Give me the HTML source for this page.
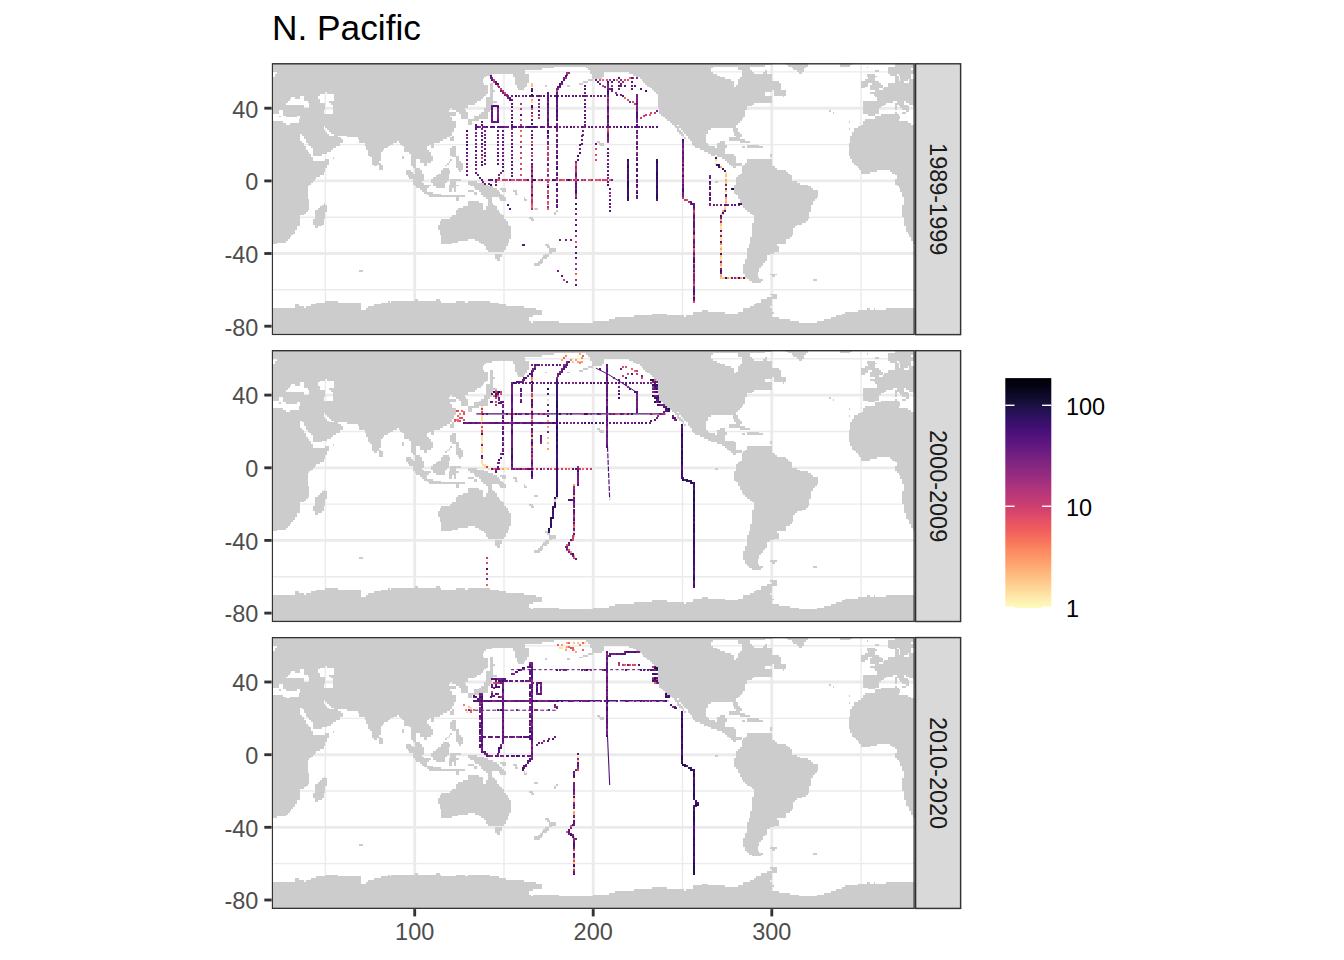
<!DOCTYPE html><html><head><meta charset="utf-8"><title>N. Pacific</title><style>html,body{margin:0;padding:0;background:#fff}svg{display:block}text{font-family:"Liberation Sans",sans-serif}</style></head><body>
<svg width="1344" height="960" viewBox="0 0 1344 960">
<rect width="1344" height="960" fill="#fff"/>
<defs><path id="land" d="M0.0 0.0H500.2V1.6H0.0zM514.5 0.0H536.0V1.6H514.5zM568.1 0.0H580.6V1.6H568.1zM623.5 0.0H643.3V1.6H623.5zM0.0 1.6H493.1V3.4H0.0zM516.3 1.6H536.0V3.4H516.3zM568.1 1.6H578.8V3.4H568.1zM623.5 1.6H643.3V3.4H623.5zM0.0 3.4H282.4V5.2H0.0zM314.5 3.4H441.3V5.2H314.5zM466.3 3.4H478.8V5.2H466.3zM519.9 3.4H534.2V5.2H519.9zM594.9 3.4H596.7V5.2H594.9zM616.3 3.4H643.3V5.2H616.3zM0.0 5.2H269.9V7.0H0.0zM316.3 5.2H439.5V7.0H316.3zM466.3 5.2H478.8V7.0H466.3zM521.7 5.2H532.4V7.0H521.7zM616.3 5.2H639.5V7.0H616.3zM641.3 5.2H643.3V7.0H641.3zM0.0 7.0H253.8V8.8H0.0zM318.1 7.0H439.5V8.8H318.1zM469.9 7.0H480.6V8.8H469.9zM493.1 7.0H494.9V8.8H493.1zM525.2 7.0H532.4V8.8H525.2zM603.8 7.0H607.4V8.8H603.8zM616.3 7.0H643.3V8.8H616.3zM5.5 8.8H253.8V10.6H5.5zM318.1 8.8H332.4V10.6H318.1zM357.4 8.8H441.3V10.6H357.4zM469.9 8.8H482.4V10.6H469.9zM491.3 8.8H494.9V10.6H491.3zM527.0 8.8H530.6V10.6H527.0zM616.3 8.8H643.3V10.6H616.3zM3.8 10.6H219.9V12.5H3.8zM241.3 10.6H257.4V12.5H241.3zM319.9 10.6H332.4V12.5H319.9zM360.9 10.6H444.9V12.5H360.9zM469.9 10.6H500.2V12.5H469.9zM594.9 10.6H603.8V12.5H594.9zM618.1 10.6H625.3V12.5H618.1zM627.0 10.6H639.5V12.5H627.0zM3.8 12.5H214.5V14.3H3.8zM241.3 12.5H257.4V14.3H241.3zM319.9 12.5H332.4V14.3H319.9zM364.5 12.5H448.5V14.3H364.5zM469.9 12.5H500.2V14.3H469.9zM594.9 12.5H605.6V14.3H594.9zM623.5 12.5H627.0V14.3H623.5zM628.8 12.5H639.5V14.3H628.8zM0.0 14.3H212.7V16.1H0.0zM243.1 14.3H257.4V16.1H243.1zM319.9 14.3H330.6V16.1H319.9zM368.1 14.3H453.8V16.1H368.1zM468.1 14.3H500.2V16.1H468.1zM596.7 14.3H603.8V16.1H596.7zM623.5 14.3H627.0V16.1H623.5zM628.8 14.3H639.5V16.1H628.8zM0.0 16.1H210.9V17.9H0.0zM243.1 16.1H257.4V17.9H243.1zM316.3 16.1H321.6V17.9H316.3zM369.9 16.1H459.2V17.9H369.9zM466.3 16.1H500.2V17.9H466.3zM593.1 16.1H603.8V17.9H593.1zM623.5 16.1H627.0V17.9H623.5zM628.8 16.1H636.0V17.9H628.8zM637.8 16.1H643.3V17.9H637.8zM0.0 17.9H210.9V19.7H0.0zM243.1 17.9H257.4V19.7H243.1zM310.9 17.9H316.3V19.7H310.9zM371.7 17.9H462.7V19.7H371.7zM466.3 17.9H507.4V19.7H466.3zM589.5 17.9H607.4V19.7H589.5zM623.5 17.9H632.4V19.7H623.5zM637.8 17.9H643.3V19.7H637.8zM0.0 19.7H212.7V21.5H0.0zM218.1 19.7H221.6V21.5H218.1zM243.1 19.7H255.6V21.5H243.1zM307.4 19.7H310.9V21.5H307.4zM373.4 19.7H462.7V21.5H373.4zM466.3 19.7H509.2V21.5H466.3zM589.5 19.7H596.7V21.5H589.5zM600.3 19.7H609.2V21.5H600.3zM616.3 19.7H643.3V21.5H616.3zM0.0 21.5H216.3V23.4H0.0zM218.1 21.5H221.6V23.4H218.1zM244.9 21.5H255.6V23.4H244.9zM273.4 21.5H275.2V23.4H273.4zM294.9 21.5H298.4V23.4H294.9zM375.2 21.5H462.7V23.4H375.2zM464.5 21.5H509.2V23.4H464.5zM589.5 21.5H596.7V23.4H589.5zM598.5 21.5H611.0V23.4H598.5zM616.3 21.5H643.3V23.4H616.3zM0.0 23.4H216.3V25.2H0.0zM218.1 23.4H221.6V25.2H218.1zM244.9 23.4H253.8V25.2H244.9zM378.8 23.4H509.2V25.2H378.8zM589.5 23.4H593.1V25.2H589.5zM598.5 23.4H611.0V25.2H598.5zM612.8 23.4H643.3V25.2H612.8zM0.0 25.2H216.3V27.0H0.0zM218.1 25.2H221.6V27.0H218.1zM246.6 25.2H252.0V27.0H246.6zM380.6 25.2H509.2V27.0H380.6zM598.5 25.2H607.4V27.0H598.5zM611.0 25.2H643.3V27.0H611.0zM0.0 27.0H216.3V28.8H0.0zM218.1 27.0H223.4V28.8H218.1zM382.4 27.0H500.2V28.8H382.4zM502.0 27.0H514.5V28.8H502.0zM603.8 27.0H643.3V28.8H603.8zM0.0 28.8H53.8V30.6H0.0zM55.5 28.8H216.3V30.6H55.5zM218.1 28.8H221.6V30.6H218.1zM384.2 28.8H493.1V30.6H384.2zM502.0 28.8H514.5V30.6H502.0zM598.5 28.8H643.3V30.6H598.5zM0.0 30.6H48.4V32.4H0.0zM62.7 30.6H214.5V32.4H62.7zM218.1 30.6H221.6V32.4H218.1zM385.9 30.6H493.1V32.4H385.9zM502.0 30.6H514.5V32.4H502.0zM602.0 30.6H643.3V32.4H602.0zM0.0 32.4H28.8V34.2H0.0zM32.3 32.4H46.6V34.2H32.3zM62.7 32.4H212.7V34.2H62.7zM218.1 32.4H221.6V34.2H218.1zM385.9 32.4H500.2V34.2H385.9zM511.0 32.4H512.7V34.2H511.0zM603.8 32.4H643.3V34.2H603.8zM0.0 34.2H19.8V36.1H0.0zM23.4 34.2H28.8V36.1H23.4zM32.3 34.2H46.6V36.1H32.3zM62.7 34.2H210.9V36.1H62.7zM214.5 34.2H221.6V36.1H214.5zM385.9 34.2H500.2V36.1H385.9zM605.6 34.2H643.3V36.1H605.6zM0.0 36.1H18.0V37.9H0.0zM32.3 36.1H48.4V37.9H32.3zM62.7 36.1H209.1V37.9H62.7zM214.5 36.1H221.6V37.9H214.5zM385.9 36.1H500.2V37.9H385.9zM605.6 36.1H643.3V37.9H605.6zM0.0 37.9H16.3V39.7H0.0zM35.9 37.9H48.4V39.7H35.9zM57.3 37.9H205.6V39.7H57.3zM214.5 37.9H225.2V39.7H214.5zM385.9 37.9H500.2V39.7H385.9zM591.3 37.9H621.7V39.7H591.3zM625.3 37.9H632.4V39.7H625.3zM634.2 37.9H643.3V39.7H634.2zM0.0 39.7H14.5V41.5H0.0zM37.7 39.7H53.8V41.5H37.7zM59.1 39.7H203.8V41.5H59.1zM214.5 39.7H221.6V41.5H214.5zM385.9 39.7H482.4V41.5H385.9zM591.3 39.7H614.5V41.5H591.3zM623.5 39.7H632.4V41.5H623.5zM637.8 39.7H643.3V41.5H637.8zM0.0 41.5H32.3V43.3H0.0zM37.7 41.5H53.8V43.3H37.7zM60.9 41.5H196.6V43.3H60.9zM214.5 41.5H219.9V43.3H214.5zM385.9 41.5H480.6V43.3H385.9zM591.3 41.5H612.8V43.3H591.3zM623.5 41.5H625.3V43.3H623.5zM627.0 41.5H636.0V43.3H627.0zM641.3 41.5H643.3V43.3H641.3zM0.0 43.3H32.3V45.1H0.0zM37.7 43.3H53.8V45.1H37.7zM60.9 43.3H196.6V45.1H60.9zM214.5 43.3H219.9V45.1H214.5zM385.9 43.3H475.2V45.1H385.9zM591.3 43.3H609.2V45.1H591.3zM623.5 43.3H625.3V45.1H623.5zM628.8 43.3H637.8V45.1H628.8zM0.0 45.1H53.8V47.0H0.0zM60.9 45.1H178.8V47.0H60.9zM180.6 45.1H193.1V47.0H180.6zM212.7 45.1H219.9V47.0H212.7zM387.7 45.1H475.2V47.0H387.7zM591.3 45.1H607.4V47.0H591.3zM623.5 45.1H625.3V47.0H623.5zM630.6 45.1H637.8V47.0H630.6zM0.0 47.0H7.3V48.8H0.0zM10.9 47.0H52.0V48.8H10.9zM60.9 47.0H177.0V48.8H60.9zM184.1 47.0H194.8V48.8H184.1zM212.7 47.0H218.1V48.8H212.7zM387.7 47.0H473.5V48.8H387.7zM557.4 47.0H559.2V48.8H557.4zM591.3 47.0H607.4V48.8H591.3zM634.2 47.0H637.8V48.8H634.2zM0.0 48.8H7.3V50.6H0.0zM10.9 48.8H52.0V50.6H10.9zM60.9 48.8H184.1V50.6H60.9zM187.7 48.8H196.6V50.6H187.7zM209.1 48.8H216.3V50.6H209.1zM387.7 48.8H473.5V50.6H387.7zM561.0 48.8H562.8V50.6H561.0zM591.3 48.8H607.4V50.6H591.3zM623.5 48.8H625.3V50.6H623.5zM630.6 48.8H634.2V50.6H630.6zM10.9 50.6H184.1V52.4H10.9zM189.5 50.6H196.6V52.4H189.5zM207.3 50.6H216.3V52.4H207.3zM389.5 50.6H473.5V52.4H389.5zM596.7 50.6H603.8V52.4H596.7zM609.2 50.6H627.0V52.4H609.2zM7.3 52.4H9.1V54.2H7.3zM14.5 52.4H25.2V54.2H14.5zM28.8 52.4H178.8V54.2H28.8zM189.5 52.4H196.6V54.2H189.5zM202.0 52.4H216.3V54.2H202.0zM391.3 52.4H473.5V54.2H391.3zM603.8 52.4H628.8V54.2H603.8zM28.8 54.2H180.6V56.0H28.8zM189.5 54.2H196.6V56.0H189.5zM202.0 54.2H216.3V56.0H202.0zM393.1 54.2H471.7V56.0H393.1zM603.8 54.2H628.8V56.0H603.8zM27.0 56.0H180.6V57.9H27.0zM196.6 56.0H207.3V57.9H196.6zM394.9 56.0H469.9V57.9H394.9zM593.1 56.0H627.0V57.9H593.1zM0.0 57.9H10.9V59.7H0.0zM27.0 57.9H184.1V59.7H27.0zM196.6 57.9H200.2V59.7H196.6zM398.4 57.9H468.1V59.7H398.4zM577.0 57.9H578.8V59.7H577.0zM591.3 57.9H636.0V59.7H591.3zM0.0 59.7H14.5V61.5H0.0zM18.0 59.7H184.1V61.5H18.0zM196.6 59.7H200.2V61.5H196.6zM400.2 59.7H466.3V61.5H400.2zM591.3 59.7H639.5V61.5H591.3zM0.0 61.5H184.1V63.3H0.0zM402.0 61.5H405.6V63.3H402.0zM407.4 61.5H464.5V63.3H407.4zM589.5 61.5H643.3V63.3H589.5zM0.0 63.3H52.0V65.1H0.0zM53.8 63.3H184.1V65.1H53.8zM403.8 63.3H464.5V65.1H403.8zM586.0 63.3H643.3V65.1H586.0zM0.0 65.1H52.0V66.9H0.0zM55.5 65.1H182.3V66.9H55.5zM405.6 65.1H407.4V66.9H405.6zM409.2 65.1H439.5V66.9H409.2zM461.0 65.1H466.3V66.9H461.0zM577.0 65.1H578.8V66.9H577.0zM582.4 65.1H643.3V66.9H582.4zM0.0 66.9H53.8V68.8H0.0zM57.3 66.9H182.3V68.8H57.3zM405.6 66.9H409.2V68.8H405.6zM410.9 66.9H436.0V68.8H410.9zM461.0 66.9H466.3V68.8H461.0zM582.4 66.9H643.3V68.8H582.4zM0.0 68.8H55.5V70.6H0.0zM59.1 68.8H180.6V70.6H59.1zM407.4 68.8H410.9V70.6H407.4zM412.7 68.8H436.0V70.6H412.7zM462.7 68.8H468.1V70.6H462.7zM580.6 68.8H643.3V70.6H580.6zM0.0 70.6H28.8V72.4H0.0zM30.5 70.6H57.3V72.4H30.5zM62.7 70.6H180.6V72.4H62.7zM409.2 70.6H412.7V72.4H409.2zM414.5 70.6H434.2V72.4H414.5zM462.7 70.6H469.9V72.4H462.7zM580.6 70.6H643.3V72.4H580.6zM0.0 72.4H28.8V74.2H0.0zM32.3 72.4H66.3V74.2H32.3zM75.2 72.4H178.8V74.2H75.2zM180.6 72.4H182.3V74.2H180.6zM410.9 72.4H412.7V74.2H410.9zM416.3 72.4H434.2V74.2H416.3zM464.5 72.4H469.9V74.2H464.5zM578.8 72.4H643.3V74.2H578.8zM0.0 74.2H28.8V76.0H0.0zM32.3 74.2H69.8V76.0H32.3zM85.9 74.2H175.2V76.0H85.9zM178.8 74.2H182.3V76.0H178.8zM412.7 74.2H414.5V76.0H412.7zM416.3 74.2H434.2V76.0H416.3zM457.4 74.2H468.1V76.0H457.4zM578.8 74.2H643.3V76.0H578.8zM0.0 76.0H28.8V77.8H0.0zM34.1 76.0H71.6V77.8H34.1zM87.7 76.0H171.6V77.8H87.7zM178.8 76.0H182.3V77.8H178.8zM418.1 76.0H434.2V77.8H418.1zM457.4 76.0H473.5V77.8H457.4zM578.8 76.0H643.3V77.8H578.8zM0.0 77.8H30.5V79.6H0.0zM34.1 77.8H71.6V79.6H34.1zM87.7 77.8H125.2V79.6H87.7zM127.0 77.8H168.1V79.6H127.0zM325.2 77.8H328.8V79.6H325.2zM419.9 77.8H434.2V79.6H419.9zM448.5 77.8H453.8V79.6H448.5zM468.1 77.8H478.8V79.6H468.1zM578.8 77.8H643.3V79.6H578.8zM0.0 79.6H32.3V81.5H0.0zM35.9 79.6H68.0V81.5H35.9zM93.0 79.6H121.6V81.5H93.0zM128.8 79.6H162.7V81.5H128.8zM327.0 79.6H332.4V81.5H327.0zM419.9 79.6H436.0V81.5H419.9zM444.9 79.6H453.8V81.5H444.9zM577.0 79.6H643.3V81.5H577.0zM0.0 81.5H32.3V83.3H0.0zM37.7 81.5H68.0V83.3H37.7zM93.0 81.5H118.1V83.3H93.0zM130.6 81.5H157.3V83.3H130.6zM159.1 81.5H162.7V83.3H159.1zM328.8 81.5H332.4V83.3H328.8zM421.7 81.5H437.7V83.3H421.7zM444.9 81.5H455.6V83.3H444.9zM475.2 81.5H487.7V83.3H475.2zM577.0 81.5H643.3V83.3H577.0zM0.0 83.3H34.1V85.1H0.0zM39.5 83.3H64.5V85.1H39.5zM94.8 83.3H116.3V85.1H94.8zM132.3 83.3H155.6V85.1H132.3zM159.1 83.3H162.7V85.1H159.1zM180.6 83.3H184.1V85.1H180.6zM423.4 83.3H443.1V85.1H423.4zM444.9 83.3H455.6V85.1H444.9zM469.9 83.3H473.5V85.1H469.9zM475.2 83.3H491.3V85.1H475.2zM577.0 83.3H643.3V85.1H577.0zM0.0 85.1H34.1V86.9H0.0zM41.3 85.1H60.9V86.9H41.3zM94.8 85.1H112.7V86.9H94.8zM132.3 85.1H155.6V86.9H132.3zM178.8 85.1H184.1V86.9H178.8zM428.8 85.1H453.8V86.9H428.8zM577.0 85.1H643.3V86.9H577.0zM0.0 86.9H35.9V88.7H0.0zM41.3 86.9H59.1V88.7H41.3zM96.6 86.9H110.9V88.7H96.6zM132.3 86.9H157.3V88.7H132.3zM178.8 86.9H184.1V88.7H178.8zM432.4 86.9H453.8V88.7H432.4zM577.0 86.9H643.3V88.7H577.0zM0.0 88.7H37.7V90.5H0.0zM41.3 88.7H55.5V90.5H41.3zM96.6 88.7H109.1V90.5H96.6zM137.7 88.7H159.1V90.5H137.7zM178.8 88.7H184.1V90.5H178.8zM436.0 88.7H453.8V90.5H436.0zM577.0 88.7H643.3V90.5H577.0zM0.0 90.5H39.5V92.4H0.0zM41.3 90.5H50.2V92.4H41.3zM96.6 90.5H109.1V92.4H96.6zM139.5 90.5H159.1V92.4H139.5zM178.8 90.5H184.1V92.4H178.8zM439.5 90.5H462.7V92.4H439.5zM498.5 90.5H500.2V92.4H498.5zM577.0 90.5H643.3V92.4H577.0zM0.0 92.4H39.5V94.2H0.0zM98.4 92.4H109.1V94.2H98.4zM130.6 92.4H132.3V94.2H130.6zM139.5 92.4H160.9V94.2H139.5zM180.6 92.4H187.7V94.2H180.6zM444.9 92.4H464.5V94.2H444.9zM498.5 92.4H500.2V94.2H498.5zM578.8 92.4H643.3V94.2H578.8zM0.0 94.2H41.3V96.0H0.0zM60.9 94.2H62.7V96.0H60.9zM100.2 94.2H109.1V96.0H100.2zM130.6 94.2H132.3V96.0H130.6zM139.5 94.2H160.9V96.0H139.5zM184.1 94.2H187.7V96.0H184.1zM450.2 94.2H464.5V96.0H450.2zM578.8 94.2H643.3V96.0H578.8zM0.0 96.0H41.3V97.8H0.0zM53.8 96.0H57.3V97.8H53.8zM100.2 96.0H109.1V97.8H100.2zM139.5 96.0H144.8V97.8H139.5zM148.4 96.0H160.9V97.8H148.4zM178.8 96.0H180.6V97.8H178.8zM184.1 96.0H187.7V97.8H184.1zM453.8 96.0H464.5V97.8H453.8zM475.2 96.0H500.2V97.8H475.2zM580.6 96.0H643.3V97.8H580.6zM0.0 97.8H57.3V99.6H0.0zM100.2 97.8H107.3V99.6H100.2zM139.5 97.8H144.8V99.6H139.5zM148.4 97.8H159.1V99.6H148.4zM177.0 97.8H178.8V99.6H177.0zM184.1 97.8H189.5V99.6H184.1zM455.6 97.8H464.5V99.6H455.6zM475.2 97.8H500.2V99.6H475.2zM580.6 97.8H643.3V99.6H580.6zM0.0 99.6H57.3V101.4H0.0zM100.2 99.6H109.1V101.4H100.2zM139.5 99.6H144.8V101.4H139.5zM152.0 99.6H155.6V101.4H152.0zM175.2 99.6H177.0V101.4H175.2zM184.1 99.6H191.3V101.4H184.1zM457.4 99.6H469.9V101.4H457.4zM473.5 99.6H500.2V101.4H473.5zM582.4 99.6H643.3V101.4H582.4zM0.0 101.4H55.5V103.3H0.0zM102.0 101.4H105.5V103.3H102.0zM107.3 101.4H110.9V103.3H107.3zM139.5 101.4H144.8V103.3H139.5zM152.0 101.4H155.6V103.3H152.0zM173.4 101.4H175.2V103.3H173.4zM184.1 101.4H191.3V103.3H184.1zM459.2 101.4H469.9V103.3H459.2zM471.7 101.4H500.2V103.3H471.7zM584.2 101.4H643.3V103.3H584.2zM0.0 103.3H55.5V105.1H0.0zM107.3 103.3H110.9V105.1H107.3zM141.3 103.3H144.8V105.1H141.3zM184.1 103.3H191.3V105.1H184.1zM461.0 103.3H464.5V105.1H461.0zM469.9 103.3H503.8V105.1H469.9zM586.0 103.3H643.3V105.1H586.0zM0.0 105.1H53.8V106.9H0.0zM107.3 105.1H110.9V106.9H107.3zM143.1 105.1H148.4V106.9H143.1zM171.6 105.1H177.0V106.9H171.6zM185.9 105.1H191.3V106.9H185.9zM469.9 105.1H505.6V106.9H469.9zM587.8 105.1H643.3V106.9H587.8zM0.0 106.9H53.8V108.7H0.0zM134.1 106.9H139.5V108.7H134.1zM143.1 106.9H150.2V108.7H143.1zM169.8 106.9H178.8V108.7H169.8zM187.7 106.9H189.5V108.7H187.7zM469.9 106.9H514.5V108.7H469.9zM589.5 106.9H605.6V108.7H589.5zM618.1 106.9H643.3V108.7H618.1zM0.0 108.7H52.0V110.5H0.0zM134.1 108.7H141.3V110.5H134.1zM143.1 108.7H150.2V110.5H143.1zM169.8 108.7H178.8V110.5H169.8zM469.9 108.7H516.3V110.5H469.9zM589.5 108.7H598.5V110.5H589.5zM619.9 108.7H643.3V110.5H619.9zM0.0 110.5H52.0V112.3H0.0zM134.1 110.5H152.0V112.3H134.1zM166.3 110.5H177.0V112.3H166.3zM468.1 110.5H518.1V112.3H468.1zM623.5 110.5H643.3V112.3H623.5zM0.0 112.3H48.4V114.2H0.0zM135.9 112.3H152.0V114.2H135.9zM164.5 112.3H177.0V114.2H164.5zM466.3 112.3H519.9V114.2H466.3zM625.3 112.3H643.3V114.2H625.3zM0.0 114.2H44.8V116.0H0.0zM137.7 114.2H152.0V116.0H137.7zM160.9 114.2H177.0V116.0H160.9zM464.5 114.2H519.9V116.0H464.5zM625.3 114.2H643.3V116.0H625.3zM0.0 116.0H43.0V117.8H0.0zM141.3 116.0H152.0V117.8H141.3zM159.1 116.0H177.0V117.8H159.1zM178.8 116.0H189.5V117.8H178.8zM464.5 116.0H519.9V117.8H464.5zM623.5 116.0H643.3V117.8H623.5zM0.0 117.8H41.3V119.6H0.0zM141.3 117.8H150.2V119.6H141.3zM159.1 117.8H175.2V119.6H159.1zM178.8 117.8H184.1V119.6H178.8zM196.6 117.8H205.6V119.6H196.6zM443.1 117.8H446.7V119.6H443.1zM464.5 117.8H525.2V119.6H464.5zM623.5 117.8H643.3V119.6H623.5zM0.0 119.6H39.5V121.4H0.0zM141.3 119.6H152.0V121.4H141.3zM160.9 119.6H173.4V121.4H160.9zM178.8 119.6H184.1V121.4H178.8zM196.6 119.6H212.7V121.4H196.6zM464.5 119.6H528.8V121.4H464.5zM623.5 119.6H643.3V121.4H623.5zM0.0 121.4H37.7V123.2H0.0zM143.1 121.4H159.1V123.2H143.1zM160.9 121.4H173.4V123.2H160.9zM177.0 121.4H187.7V123.2H177.0zM198.4 121.4H216.3V123.2H198.4zM462.7 121.4H536.0V123.2H462.7zM625.3 121.4H643.3V123.2H625.3zM0.0 123.2H35.9V125.0H0.0zM144.8 123.2H157.3V125.0H144.8zM164.5 123.2H173.4V125.0H164.5zM177.0 123.2H184.1V125.0H177.0zM202.0 123.2H221.6V125.0H202.0zM462.7 123.2H539.5V125.0H462.7zM627.0 123.2H643.3V125.0H627.0zM0.0 125.0H35.9V126.9H0.0zM148.4 125.0H155.6V126.9H148.4zM177.0 125.0H180.6V126.9H177.0zM182.3 125.0H184.1V126.9H182.3zM203.8 125.0H225.2V126.9H203.8zM228.8 125.0H234.1V126.9H228.8zM462.7 125.0H541.3V126.9H462.7zM628.8 125.0H643.3V126.9H628.8zM0.0 126.9H35.9V128.7H0.0zM150.2 126.9H155.6V128.7H150.2zM177.0 126.9H180.6V128.7H177.0zM182.3 126.9H184.1V128.7H182.3zM196.6 126.9H202.0V128.7H196.6zM207.3 126.9H227.0V128.7H207.3zM230.6 126.9H234.1V128.7H230.6zM241.3 126.9H244.9V128.7H241.3zM462.7 126.9H546.7V128.7H462.7zM628.8 126.9H643.3V128.7H628.8zM0.0 128.7H35.9V130.5H0.0zM152.0 128.7H160.9V130.5H152.0zM202.0 128.7H205.6V130.5H202.0zM209.1 128.7H228.8V130.5H209.1zM243.1 128.7H244.9V130.5H243.1zM462.7 128.7H546.7V130.5H462.7zM630.6 128.7H643.3V130.5H630.6zM0.0 130.5H35.9V132.3H0.0zM155.6 130.5H169.8V132.3H155.6zM202.0 130.5H205.6V132.3H202.0zM209.1 130.5H230.6V132.3H209.1zM243.1 130.5H246.6V132.3H243.1zM464.5 130.5H546.7V132.3H464.5zM630.6 130.5H643.3V132.3H630.6zM0.0 132.3H35.9V134.1H0.0zM157.3 132.3H193.1V134.1H157.3zM210.9 132.3H232.4V134.1H210.9zM466.3 132.3H546.7V134.1H466.3zM630.6 132.3H643.3V134.1H630.6zM0.0 134.1H35.9V135.9H0.0zM184.1 134.1H187.7V135.9H184.1zM214.5 134.1H219.9V135.9H214.5zM227.0 134.1H234.1V135.9H227.0zM252.0 134.1H253.8V135.9H252.0zM466.3 134.1H544.9V135.9H466.3zM632.4 134.1H643.3V135.9H632.4zM0.0 135.9H37.7V137.8H0.0zM184.1 135.9H187.7V137.8H184.1zM216.3 135.9H219.9V137.8H216.3zM228.8 135.9H234.1V137.8H228.8zM252.0 135.9H255.6V137.8H252.0zM468.1 135.9H543.1V137.8H468.1zM632.4 135.9H643.3V137.8H632.4zM0.0 137.8H37.7V139.6H0.0zM196.6 137.8H207.3V139.6H196.6zM216.3 137.8H219.9V139.6H216.3zM468.1 137.8H541.3V139.6H468.1zM632.4 137.8H643.3V139.6H632.4zM0.0 139.6H37.7V141.4H0.0zM52.0 139.6H53.8V141.4H52.0zM196.6 139.6H210.9V141.4H196.6zM216.3 139.6H221.6V141.4H216.3zM469.9 139.6H541.3V141.4H469.9zM632.4 139.6H643.3V141.4H632.4zM0.0 141.4H37.7V143.2H0.0zM50.2 141.4H55.5V143.2H50.2zM196.6 141.4H210.9V143.2H196.6zM216.3 141.4H223.4V143.2H216.3zM469.9 141.4H539.5V143.2H469.9zM630.6 141.4H643.3V143.2H630.6zM0.0 143.2H37.7V145.0H0.0zM48.4 143.2H55.5V145.0H48.4zM191.3 143.2H210.9V145.0H191.3zM214.5 143.2H225.2V145.0H214.5zM471.7 143.2H539.5V145.0H471.7zM630.6 143.2H643.3V145.0H630.6zM0.0 145.0H37.7V146.8H0.0zM46.6 145.0H55.5V146.8H46.6zM185.9 145.0H210.9V146.8H185.9zM214.5 145.0H225.2V146.8H214.5zM262.7 145.0H266.3V146.8H262.7zM473.5 145.0H539.5V146.8H473.5zM630.6 145.0H643.3V146.8H630.6zM0.0 146.8H35.9V148.7H0.0zM43.0 146.8H55.5V148.7H43.0zM184.1 146.8H227.0V148.7H184.1zM284.1 146.8H285.9V148.7H284.1zM475.2 146.8H539.5V148.7H475.2zM630.6 146.8H643.3V148.7H630.6zM0.0 148.7H34.1V150.5H0.0zM43.0 148.7H53.8V150.5H43.0zM184.1 148.7H228.8V150.5H184.1zM282.4 148.7H284.1V150.5H282.4zM478.8 148.7H537.8V150.5H478.8zM630.6 148.7H643.3V150.5H630.6zM0.0 150.5H32.3V152.3H0.0zM43.0 150.5H53.8V152.3H43.0zM184.1 150.5H230.6V152.3H184.1zM282.4 150.5H284.1V152.3H282.4zM480.6 150.5H537.8V152.3H480.6zM630.6 150.5H643.3V152.3H630.6zM0.0 152.3H28.8V154.1H0.0zM43.0 152.3H53.8V154.1H43.0zM180.6 152.3H232.4V154.1H180.6zM482.4 152.3H537.8V154.1H482.4zM630.6 152.3H643.3V154.1H630.6zM0.0 154.1H28.8V155.9H0.0zM43.0 154.1H53.8V155.9H43.0zM178.8 154.1H232.4V155.9H178.8zM257.4 154.1H260.9V155.9H257.4zM482.4 154.1H537.8V155.9H482.4zM632.4 154.1H643.3V155.9H632.4zM0.0 155.9H28.8V157.7H0.0zM41.3 155.9H52.0V157.7H41.3zM169.8 155.9H234.1V157.7H169.8zM259.1 155.9H262.7V157.7H259.1zM482.4 155.9H536.0V157.7H482.4zM632.4 155.9H643.3V157.7H632.4zM0.0 157.7H28.8V159.6H0.0zM41.3 157.7H52.0V159.6H41.3zM168.1 157.7H235.9V159.6H168.1zM482.4 157.7H534.2V159.6H482.4zM632.4 157.7H643.3V159.6H632.4zM0.0 159.6H28.8V161.4H0.0zM41.3 159.6H52.0V161.4H41.3zM168.1 159.6H235.9V161.4H168.1zM480.6 159.6H530.6V161.4H480.6zM632.4 159.6H643.3V161.4H632.4zM0.0 161.4H28.8V163.2H0.0zM43.0 161.4H50.2V163.2H43.0zM166.3 161.4H237.7V163.2H166.3zM480.6 161.4H525.2V163.2H480.6zM632.4 161.4H643.3V163.2H632.4zM0.0 163.2H25.2V165.0H0.0zM43.0 163.2H46.6V165.0H43.0zM166.3 163.2H239.5V165.0H166.3zM480.6 163.2H523.5V165.0H480.6zM634.2 163.2H643.3V165.0H634.2zM0.0 165.0H25.2V166.8H0.0zM166.3 165.0H239.5V166.8H166.3zM480.6 165.0H521.7V166.8H480.6zM634.2 165.0H643.3V166.8H634.2zM0.0 166.8H23.4V168.6H0.0zM168.1 166.8H239.5V168.6H168.1zM480.6 166.8H521.7V168.6H480.6zM634.2 166.8H643.3V168.6H634.2zM0.0 168.6H23.4V170.4H0.0zM168.1 168.6H239.5V170.4H168.1zM480.6 168.6H521.7V170.4H480.6zM636.0 168.6H643.3V170.4H636.0zM0.0 170.4H21.6V172.3H0.0zM168.1 170.4H239.5V172.3H168.1zM480.6 170.4H521.7V172.3H480.6zM637.8 170.4H643.3V172.3H637.8zM0.0 172.3H19.8V174.1H0.0zM169.8 172.3H239.5V174.1H169.8zM480.6 172.3H519.9V174.1H480.6zM637.8 172.3H643.3V174.1H637.8zM0.0 174.1H18.0V175.9H0.0zM169.8 174.1H239.5V175.9H169.8zM478.8 174.1H518.1V175.9H478.8zM639.5 174.1H643.3V175.9H639.5zM0.0 175.9H16.3V177.7H0.0zM169.8 175.9H196.6V177.7H169.8zM203.8 175.9H237.7V177.7H203.8zM478.8 175.9H514.5V177.7H478.8zM639.5 175.9H643.3V177.7H639.5zM0.0 177.7H14.5V179.5H0.0zM169.8 177.7H185.9V179.5H169.8zM207.3 177.7H237.7V179.5H207.3zM478.8 177.7H514.5V179.5H478.8zM641.3 177.7H643.3V179.5H641.3zM0.0 179.5H5.5V181.3H0.0zM169.8 179.5H180.6V181.3H169.8zM209.1 179.5H235.9V181.3H209.1zM478.8 179.5H514.5V181.3H478.8zM641.3 179.5H643.3V181.3H641.3zM212.7 181.3H235.9V183.2H212.7zM273.4 181.3H277.0V183.2H273.4zM477.0 181.3H505.6V183.2H477.0zM214.5 183.2H234.1V185.0H214.5zM275.2 183.2H278.8V185.0H275.2zM477.0 183.2H507.4V185.0H477.0zM214.5 185.0H234.1V186.8H214.5zM277.0 185.0H284.1V186.8H277.0zM475.2 185.0H507.4V186.8H475.2zM216.3 186.8H232.4V188.6H216.3zM277.0 186.8H284.1V188.6H277.0zM475.2 186.8H507.4V188.6H475.2zM277.0 188.6H280.6V190.4H277.0zM475.2 188.6H502.0V190.4H475.2zM223.4 190.4H230.6V192.2H223.4zM273.4 190.4H277.0V192.2H273.4zM475.2 190.4H498.5V192.2H475.2zM223.4 192.2H230.6V194.1H223.4zM271.6 192.2H277.0V194.1H271.6zM475.2 192.2H494.9V194.1H475.2zM223.4 194.1H228.8V195.9H223.4zM269.9 194.1H275.2V195.9H269.9zM475.2 194.1H494.9V195.9H475.2zM225.2 195.9H228.8V197.7H225.2zM268.1 195.9H271.6V197.7H268.1zM473.5 195.9H494.9V197.7H473.5zM266.3 197.7H271.6V199.5H266.3zM473.5 197.7H493.1V199.5H473.5zM262.7 199.5H269.9V201.3H262.7zM473.5 199.5H491.3V201.3H473.5zM262.7 201.3H268.1V203.1H262.7zM471.7 201.3H491.3V203.1H471.7zM471.7 203.1H489.5V205.0H471.7zM471.7 205.0H487.7V206.8H471.7zM87.7 206.8H91.3V208.6H87.7zM471.7 206.8H487.7V208.6H471.7zM471.7 208.6H486.0V210.4H471.7zM473.5 210.4H486.0V212.2H473.5zM498.5 210.4H505.6V212.2H498.5zM473.5 212.2H486.0V214.0H473.5zM500.2 212.2H503.8V214.0H500.2zM475.2 214.0H487.7V215.8H475.2zM477.0 215.8H491.3V217.7H477.0zM541.3 215.8H544.9V217.7H541.3zM480.6 217.7H489.5V219.5H480.6zM498.5 230.4H505.6V232.2H498.5zM500.2 232.2H505.6V234.0H500.2zM494.9 234.0H505.6V235.8H494.9zM143.1 235.8H146.6V237.6H143.1zM164.5 235.8H168.1V237.6H164.5zM489.5 235.8H500.2V237.6H489.5zM53.8 237.6H66.3V239.5H53.8zM116.3 237.6H118.1V239.5H116.3zM119.8 237.6H169.8V239.5H119.8zM184.1 237.6H193.1V239.5H184.1zM196.6 237.6H218.1V239.5H196.6zM489.5 237.6H500.2V239.5H489.5zM44.8 239.5H89.5V241.3H44.8zM109.1 239.5H227.0V241.3H109.1zM484.2 239.5H500.2V241.3H484.2zM23.4 241.3H27.0V243.1H23.4zM39.5 241.3H89.5V243.1H39.5zM102.0 241.3H234.1V243.1H102.0zM482.4 241.3H500.2V243.1H482.4zM23.4 243.1H32.3V244.9H23.4zM34.1 243.1H89.5V244.9H34.1zM96.6 243.1H252.0V244.9H96.6zM478.8 243.1H498.5V244.9H478.8zM0.0 244.9H89.5V246.7H0.0zM94.8 244.9H264.5V246.7H94.8zM471.7 244.9H500.2V246.7H471.7zM594.9 244.9H598.5V246.7H594.9zM602.0 244.9H603.8V246.7H602.0zM614.5 244.9H643.3V246.7H614.5zM0.0 246.7H269.9V248.5H0.0zM430.6 246.7H436.0V248.5H430.6zM471.7 246.7H500.2V248.5H471.7zM586.0 246.7H643.3V248.5H586.0zM0.0 248.5H269.9V250.4H0.0zM421.7 248.5H453.8V250.4H421.7zM466.3 248.5H502.0V250.4H466.3zM573.5 248.5H643.3V250.4H573.5zM0.0 250.4H269.9V252.2H0.0zM380.6 250.4H394.9V252.2H380.6zM421.7 250.4H500.2V252.2H421.7zM569.9 250.4H643.3V252.2H569.9zM0.0 252.2H260.9V254.0H0.0zM362.7 252.2H412.7V254.0H362.7zM414.5 252.2H500.2V254.0H414.5zM564.5 252.2H643.3V254.0H564.5zM0.0 254.0H257.4V255.8H0.0zM343.1 254.0H507.4V255.8H343.1zM559.2 254.0H643.3V255.8H559.2zM0.0 255.8H257.4V257.6H0.0zM337.7 255.8H518.1V257.6H337.7zM552.0 255.8H643.3V257.6H552.0zM0.0 257.6H259.1V259.4H0.0zM260.9 257.6H287.7V259.4H260.9zM321.6 257.6H527.0V259.4H321.6zM544.9 257.6H643.3V259.4H544.9zM0.0 259.4H643.3V261.2H0.0zM0.0 261.2H643.3V263.1H0.0zM0.0 263.1H643.3V264.9H0.0zM0.0 264.9H643.3V266.7H0.0zM0.0 266.7H643.3V268.5H0.0zM0.0 268.5H643.3V270.3H0.0zM0.0 270.3H643.3V272.1H0.0z"/>
<clipPath id="pc"><rect x="0" y="0" width="643.3" height="272.2"/></clipPath>
<g id="grid"><line x1="53.8" x2="53.8" y1="0" y2="272.2" stroke="#EBEBEB" stroke-width="1.42"/><line x1="232.4" x2="232.4" y1="0" y2="272.2" stroke="#EBEBEB" stroke-width="1.42"/><line x1="410.9" x2="410.9" y1="0" y2="272.2" stroke="#EBEBEB" stroke-width="1.42"/><line x1="589.5" x2="589.5" y1="0" y2="272.2" stroke="#EBEBEB" stroke-width="1.42"/><line y1="8.8" y2="8.8" x1="0" x2="643.3" stroke="#EBEBEB" stroke-width="1.42"/><line y1="81.5" y2="81.5" x1="0" x2="643.3" stroke="#EBEBEB" stroke-width="1.42"/><line y1="154.1" y2="154.1" x1="0" x2="643.3" stroke="#EBEBEB" stroke-width="1.42"/><line y1="226.7" y2="226.7" x1="0" x2="643.3" stroke="#EBEBEB" stroke-width="1.42"/><line x1="143.1" x2="143.1" y1="0" y2="272.2" stroke="#EBEBEB" stroke-width="2.85"/><line x1="321.6" x2="321.6" y1="0" y2="272.2" stroke="#EBEBEB" stroke-width="2.85"/><line x1="500.2" x2="500.2" y1="0" y2="272.2" stroke="#EBEBEB" stroke-width="2.85"/><line y1="45.1" y2="45.1" x1="0" x2="643.3" stroke="#EBEBEB" stroke-width="2.85"/><line y1="117.8" y2="117.8" x1="0" x2="643.3" stroke="#EBEBEB" stroke-width="2.85"/><line y1="190.4" y2="190.4" x1="0" x2="643.3" stroke="#EBEBEB" stroke-width="2.85"/><line y1="263.1" y2="263.1" x1="0" x2="643.3" stroke="#EBEBEB" stroke-width="2.85"/></g>
<linearGradient id="mg" x1="0" y1="0" x2="0" y2="1">
<stop offset="0.0000" stop-color="#000004"/>
<stop offset="0.0417" stop-color="#050416"/>
<stop offset="0.0833" stop-color="#100B2D"/>
<stop offset="0.1250" stop-color="#1D1147"/>
<stop offset="0.1667" stop-color="#2C115F"/>
<stop offset="0.2083" stop-color="#3F0F72"/>
<stop offset="0.2500" stop-color="#51127C"/>
<stop offset="0.2917" stop-color="#601880"/>
<stop offset="0.3333" stop-color="#721F81"/>
<stop offset="0.3750" stop-color="#832681"/>
<stop offset="0.4167" stop-color="#932B80"/>
<stop offset="0.4583" stop-color="#A5317E"/>
<stop offset="0.5000" stop-color="#B73779"/>
<stop offset="0.5417" stop-color="#C73D73"/>
<stop offset="0.5833" stop-color="#D8456C"/>
<stop offset="0.6250" stop-color="#E75263"/>
<stop offset="0.6667" stop-color="#F1605D"/>
<stop offset="0.7083" stop-color="#F8745C"/>
<stop offset="0.7500" stop-color="#FC8961"/>
<stop offset="0.7917" stop-color="#FD9B6B"/>
<stop offset="0.8333" stop-color="#FEB078"/>
<stop offset="0.8750" stop-color="#FEC488"/>
<stop offset="0.9167" stop-color="#FED799"/>
<stop offset="0.9583" stop-color="#FDEBAC"/>
<stop offset="1.0000" stop-color="#FCFDBF"/>
</linearGradient></defs>
<text x="271.9" y="40.2" font-size="35.3" fill="#000">N. Pacific</text>
<g transform="translate(271.6 63.1)" clip-path="url(#pc)">
<rect width="643.3" height="272.2" fill="#fff"/>
<use href="#grid"/>
<use href="#land" fill="#CCCCCC" shape-rendering="crispEdges"/>
<path fill="#FCFDBF" shape-rendering="crispEdges" d="M443.40 91.90h2v2h-2zM443.40 97.90h2v2h-2zM444.40 99.90h2v2h-2zM453.40 113.90h2v2h-2zM453.40 122.90h2v2h-2zM453.40 128.90h2v2h-2zM448.40 168.90h2v2h-2zM448.40 180.90h2v2h-2zM460.40 213.90h2v2h-2z"/><path fill="#FDE0A1" shape-rendering="crispEdges" d="M259.40 37.90h2v2h-2zM443.40 95.90h2v2h-2zM443.40 99.90h2v2h-2zM453.40 108.90h2v2h-2zM453.40 139.90h2v2h-2zM452.40 142.90h2v2h-2zM448.40 149.90h2v2h-2zM448.40 162.90h2v2h-2zM448.40 164.90h2v2h-2zM448.40 169.90h2v2h-2zM448.40 173.90h2v2h-2zM448.40 175.90h2v2h-2zM448.40 182.90h2v2h-2zM448.40 186.90h2v2h-2zM448.40 188.90h2v2h-2zM448.40 193.90h2v2h-2zM448.40 195.90h2v2h-2zM448.40 202.90h2v2h-2zM457.40 213.90h2v2h-2zM469.40 213.90h2v2h-2zM473.40 213.90h2v2h-2z"/><path fill="#FEC185" shape-rendering="crispEdges" d="M259.40 19.90h2v2h-2zM259.40 21.90h2v2h-2zM453.40 110.90h2v2h-2zM453.40 111.90h2v2h-2zM453.40 117.90h2v2h-2zM453.40 119.90h2v2h-2zM453.40 126.90h2v2h-2zM453.40 135.90h2v2h-2zM452.40 144.90h2v2h-2zM450.40 149.90h2v2h-2zM448.40 159.90h2v2h-2zM448.40 160.90h2v2h-2zM448.40 191.90h2v2h-2zM448.40 209.90h2v2h-2zM448.40 213.90h2v2h-2zM450.40 213.90h2v2h-2zM452.40 213.90h2v2h-2z"/><path fill="#FEA16E" shape-rendering="crispEdges" d="M259.40 35.90h2v2h-2zM448.40 102.90h2v2h-2zM453.40 115.90h2v2h-2zM453.40 133.90h2v2h-2zM453.40 137.90h2v2h-2zM450.40 146.90h2v2h-2zM448.40 155.90h2v2h-2zM448.40 184.90h2v2h-2zM448.40 199.90h2v2h-2zM448.40 200.90h2v2h-2zM448.40 211.90h2v2h-2zM455.40 213.90h2v2h-2zM464.40 213.90h2v2h-2zM468.40 213.90h2v2h-2z"/><path fill="#FA815F" shape-rendering="crispEdges" d="M448.40 179.90h2v2h-2z"/><path fill="#F2625D" shape-rendering="crispEdges" d="M225.40 115.90h2v2h-2zM248.40 66.90h2v2h-2zM248.40 71.90h2v2h-2zM259.40 133.90h2v2h-2zM259.40 140.90h2v2h-2zM259.40 142.90h2v2h-2zM275.40 139.90h2v2h-2zM275.40 144.90h2v2h-2zM303.40 209.90h2v2h-2zM335.40 64.90h2v2h-2zM421.40 171.90h2v2h-2zM421.40 184.90h2v2h-2zM421.40 199.90h2v2h-2zM268.40 115.90h2v2h-2zM291.40 115.90h2v2h-2zM310.40 115.90h2v2h-2zM318.40 115.90h2v2h-2zM325.40 115.90h2v2h-2zM337.40 115.90h2v2h-2zM330.40 15.90h2v2h-2zM344.40 15.90h2v2h-2zM357.40 13.90h2v2h-2zM225.40 21.90h2v2h-2zM352.40 33.90h2v2h-2zM377.40 50.90h2v2h-2z"/><path fill="#DF4A68" shape-rendering="crispEdges" d="M209.40 93.90h2v2h-2zM239.40 115.90h2v2h-2zM248.40 55.90h2v2h-2zM248.40 93.90h2v2h-2zM248.40 99.90h2v2h-2zM248.40 110.90h2v2h-2zM259.40 44.90h2v2h-2zM259.40 51.90h2v2h-2zM259.40 77.90h2v2h-2zM259.40 110.90h2v2h-2zM259.40 113.90h2v2h-2zM259.40 119.90h2v2h-2zM259.40 128.90h2v2h-2zM259.40 139.90h2v2h-2zM275.40 82.90h2v2h-2zM275.40 104.90h2v2h-2zM275.40 111.90h2v2h-2zM275.40 120.90h2v2h-2zM275.40 126.90h2v2h-2zM275.40 128.90h2v2h-2zM275.40 137.90h2v2h-2zM303.40 99.90h2v2h-2zM303.40 100.90h2v2h-2zM303.40 115.90h2v2h-2zM303.40 177.90h2v2h-2zM335.40 50.90h2v2h-2zM323.40 84.90h2v2h-2zM323.40 90.90h2v2h-2zM323.40 95.90h2v2h-2zM414.40 135.90h2v2h-2zM421.40 146.90h2v2h-2zM421.40 173.90h2v2h-2zM421.40 208.90h2v2h-2zM421.40 220.90h2v2h-2zM421.40 237.90h2v2h-2zM226.40 115.90h2v2h-2zM234.40 115.90h2v2h-2zM241.40 115.90h2v2h-2zM276.40 115.90h2v2h-2zM289.40 115.90h2v2h-2zM316.40 115.90h2v2h-2zM323.40 115.90h2v2h-2zM332.40 115.90h2v2h-2zM334.40 115.90h2v2h-2zM327.40 15.90h2v2h-2zM334.40 15.90h2v2h-2zM352.40 15.90h2v2h-2zM355.40 15.90h2v2h-2zM232.40 28.90h2v2h-2zM355.40 35.90h2v2h-2zM360.40 37.90h2v2h-2zM378.40 48.90h2v2h-2z"/><path fill="#C73D73" shape-rendering="crispEdges" d="M248.40 44.90h2v2h-2zM248.40 77.90h2v2h-2zM248.40 88.90h2v2h-2zM248.40 104.90h2v2h-2zM248.40 115.90h2v2h-2zM259.40 91.90h2v2h-2zM259.40 100.90h2v2h-2zM259.40 104.90h2v2h-2zM259.40 108.90h2v2h-2zM259.40 115.90h2v2h-2zM259.40 120.90h2v2h-2zM259.40 124.90h2v2h-2zM259.40 126.90h2v2h-2zM259.40 135.90h2v2h-2zM266.40 53.90h2v2h-2zM275.40 84.90h2v2h-2zM275.40 88.90h2v2h-2zM275.40 90.90h2v2h-2zM275.40 93.90h2v2h-2zM275.40 106.90h2v2h-2zM275.40 115.90h2v2h-2zM275.40 117.90h2v2h-2zM275.40 133.90h2v2h-2zM284.40 26.90h2v2h-2zM303.40 106.90h2v2h-2zM303.40 113.90h2v2h-2zM303.40 131.90h2v2h-2zM335.40 33.90h2v2h-2zM335.40 41.90h2v2h-2zM335.40 59.90h2v2h-2zM335.40 66.90h2v2h-2zM410.40 99.90h2v2h-2zM410.40 102.90h2v2h-2zM410.40 108.90h2v2h-2zM410.40 133.90h2v2h-2zM412.40 135.90h2v2h-2zM421.40 148.90h2v2h-2zM421.40 186.90h2v2h-2zM421.40 191.90h2v2h-2zM421.40 231.90h2v2h-2zM230.40 115.90h2v2h-2zM232.40 115.90h2v2h-2zM244.40 115.90h2v2h-2zM251.40 115.90h2v2h-2zM253.40 115.90h2v2h-2zM266.40 115.90h2v2h-2zM273.40 115.90h2v2h-2zM287.40 115.90h2v2h-2zM298.40 115.90h2v2h-2zM327.40 115.90h2v2h-2zM330.40 115.90h2v2h-2zM221.40 15.90h2v2h-2zM221.40 17.90h2v2h-2zM228.40 24.90h2v2h-2zM234.40 31.90h2v2h-2zM330.40 21.90h2v2h-2zM362.40 39.90h2v2h-2zM368.40 53.90h2v2h-2zM371.40 51.90h2v2h-2zM373.40 50.90h2v2h-2zM382.40 48.90h2v2h-2zM291.40 215.90h2v2h-2z"/><path fill="#AA337D" shape-rendering="crispEdges" d="M248.40 39.90h2v2h-2zM248.40 60.90h2v2h-2zM248.40 82.90h2v2h-2zM259.40 88.90h2v2h-2zM259.40 131.90h2v2h-2zM259.40 137.90h2v2h-2zM259.40 144.90h2v2h-2zM266.40 39.90h2v2h-2zM275.40 95.90h2v2h-2zM275.40 142.90h2v2h-2zM284.40 115.90h2v2h-2zM303.40 104.90h2v2h-2zM303.40 130.90h2v2h-2zM303.40 171.90h2v2h-2zM303.40 199.90h2v2h-2zM303.40 215.90h2v2h-2zM335.40 39.90h2v2h-2zM335.40 77.90h2v2h-2zM364.40 41.90h2v2h-2zM410.40 84.90h2v2h-2zM410.40 113.90h2v2h-2zM410.40 119.90h2v2h-2zM416.40 137.90h2v2h-2zM421.40 164.90h2v2h-2zM421.40 180.90h2v2h-2zM421.40 204.90h2v2h-2zM421.40 217.90h2v2h-2zM421.40 218.90h2v2h-2zM246.40 115.90h2v2h-2zM301.40 115.90h2v2h-2zM309.40 115.90h2v2h-2zM312.40 115.90h2v2h-2zM319.40 115.90h2v2h-2zM337.40 15.90h2v2h-2zM360.40 13.90h2v2h-2zM230.40 26.90h2v2h-2zM294.40 8.90h2v2h-2zM293.40 13.90h2v2h-2zM332.40 22.90h2v2h-2zM343.40 28.90h2v2h-2z"/><path fill="#902A81" shape-rendering="crispEdges" d="M194.40 73.90h2v2h-2zM194.40 91.90h2v2h-2zM194.40 102.90h2v2h-2zM203.40 79.90h2v2h-2zM203.40 90.90h2v2h-2zM203.40 104.90h2v2h-2zM209.40 82.90h2v2h-2zM228.40 108.90h2v2h-2zM226.40 113.90h2v2h-2zM223.40 117.90h2v2h-2zM219.40 41.90h2v2h-2zM225.40 44.90h2v2h-2zM225.40 48.90h2v2h-2zM239.40 64.90h2v2h-2zM239.40 71.90h2v2h-2zM259.40 80.90h2v2h-2zM275.40 37.90h2v2h-2zM275.40 51.90h2v2h-2zM275.40 73.90h2v2h-2zM275.40 99.90h2v2h-2zM284.40 24.90h2v2h-2zM284.40 42.90h2v2h-2zM284.40 130.90h2v2h-2zM303.40 102.90h2v2h-2zM303.40 204.90h2v2h-2zM335.40 22.90h2v2h-2zM335.40 37.90h2v2h-2zM335.40 48.90h2v2h-2zM335.40 68.90h2v2h-2zM335.40 95.90h2v2h-2zM335.40 113.90h2v2h-2zM337.40 128.90h2v2h-2zM337.40 131.90h2v2h-2zM364.40 73.90h2v2h-2zM364.40 84.90h2v2h-2zM364.40 88.90h2v2h-2zM410.40 110.90h2v2h-2zM421.40 149.90h2v2h-2zM421.40 155.90h2v2h-2zM421.40 209.90h2v2h-2zM421.40 213.90h2v2h-2zM437.40 140.90h2v2h-2zM448.40 157.90h2v2h-2zM462.40 213.90h2v2h-2zM207.40 62.90h2v2h-2zM291.40 62.90h2v2h-2zM305.40 62.90h2v2h-2zM359.40 62.90h2v2h-2zM373.40 62.90h2v2h-2zM246.40 31.90h2v2h-2zM268.40 31.90h2v2h-2zM314.40 31.90h2v2h-2zM321.40 31.90h2v2h-2zM332.40 31.90h2v2h-2zM444.40 140.90h2v2h-2zM348.40 15.90h2v2h-2zM364.40 13.90h2v2h-2zM226.40 22.90h2v2h-2zM234.40 30.90h2v2h-2zM296.40 8.90h2v2h-2zM294.40 10.90h2v2h-2zM339.40 21.90h2v2h-2zM346.40 17.90h2v2h-2zM350.40 17.90h2v2h-2z"/><path fill="#732081" shape-rendering="crispEdges" d="M194.40 70.90h2v2h-2zM194.40 99.90h2v2h-2zM194.40 110.90h2v2h-2zM203.40 68.90h2v2h-2zM203.40 71.90h2v2h-2zM203.40 75.90h2v2h-2zM203.40 82.90h2v2h-2zM203.40 97.90h2v2h-2zM205.40 110.90h2v2h-2zM210.40 117.90h2v2h-2zM212.40 119.90h2v2h-2zM216.40 119.90h2v2h-2zM209.40 64.90h2v2h-2zM209.40 68.90h2v2h-2zM209.40 86.90h2v2h-2zM209.40 90.90h2v2h-2zM212.40 62.90h2v2h-2zM212.40 66.90h2v2h-2zM212.40 70.90h2v2h-2zM212.40 73.90h2v2h-2zM212.40 80.90h2v2h-2zM212.40 88.90h2v2h-2zM212.40 99.90h2v2h-2zM225.40 70.90h2v2h-2zM225.40 73.90h2v2h-2zM225.40 77.90h2v2h-2zM225.40 80.90h2v2h-2zM225.40 84.90h2v2h-2zM225.40 95.90h2v2h-2zM230.40 70.90h2v2h-2zM230.40 80.90h2v2h-2zM230.40 88.90h2v2h-2zM230.40 91.90h2v2h-2zM230.40 106.90h2v2h-2zM226.40 110.90h2v2h-2zM223.40 120.90h2v2h-2zM225.40 41.90h2v2h-2zM225.40 46.90h2v2h-2zM225.40 50.90h2v2h-2zM225.40 51.90h2v2h-2zM225.40 53.90h2v2h-2zM223.40 57.90h2v2h-2zM219.40 57.90h2v2h-2zM219.40 53.90h2v2h-2zM219.40 50.90h2v2h-2zM219.40 46.90h2v2h-2zM239.40 46.90h2v2h-2zM239.40 50.90h2v2h-2zM239.40 68.90h2v2h-2zM239.40 86.90h2v2h-2zM239.40 90.90h2v2h-2zM239.40 93.90h2v2h-2zM239.40 100.90h2v2h-2zM239.40 108.90h2v2h-2zM259.40 31.90h2v2h-2zM259.40 48.90h2v2h-2zM259.40 62.90h2v2h-2zM259.40 66.90h2v2h-2zM259.40 102.90h2v2h-2zM259.40 117.90h2v2h-2zM259.40 122.90h2v2h-2zM266.40 42.90h2v2h-2zM266.40 50.90h2v2h-2zM275.40 30.90h2v2h-2zM275.40 41.90h2v2h-2zM275.40 44.90h2v2h-2zM275.40 46.90h2v2h-2zM275.40 50.90h2v2h-2zM275.40 53.90h2v2h-2zM275.40 57.90h2v2h-2zM275.40 62.90h2v2h-2zM275.40 77.90h2v2h-2zM275.40 79.90h2v2h-2zM275.40 110.90h2v2h-2zM275.40 131.90h2v2h-2zM284.40 30.90h2v2h-2zM284.40 39.90h2v2h-2zM284.40 53.90h2v2h-2zM284.40 59.90h2v2h-2zM284.40 60.90h2v2h-2zM284.40 64.90h2v2h-2zM284.40 66.90h2v2h-2zM284.40 70.90h2v2h-2zM284.40 71.90h2v2h-2zM284.40 77.90h2v2h-2zM284.40 82.90h2v2h-2zM284.40 86.90h2v2h-2zM284.40 88.90h2v2h-2zM284.40 97.90h2v2h-2zM284.40 99.90h2v2h-2zM284.40 108.90h2v2h-2zM284.40 113.90h2v2h-2zM284.40 131.90h2v2h-2zM284.40 140.90h2v2h-2zM312.40 28.90h2v2h-2zM312.40 35.90h2v2h-2zM312.40 46.90h2v2h-2zM312.40 57.90h2v2h-2zM312.40 60.90h2v2h-2zM310.40 62.90h2v2h-2zM310.40 66.90h2v2h-2zM310.40 70.90h2v2h-2zM309.40 71.90h2v2h-2zM309.40 75.90h2v2h-2zM307.40 84.90h2v2h-2zM303.40 97.90h2v2h-2zM303.40 108.90h2v2h-2zM303.40 111.90h2v2h-2zM303.40 117.90h2v2h-2zM303.40 120.90h2v2h-2zM303.40 124.90h2v2h-2zM303.40 149.90h2v2h-2zM303.40 155.90h2v2h-2zM303.40 182.90h2v2h-2zM335.40 19.90h2v2h-2zM335.40 21.90h2v2h-2zM335.40 24.90h2v2h-2zM335.40 35.90h2v2h-2zM335.40 46.90h2v2h-2zM335.40 55.90h2v2h-2zM335.40 62.90h2v2h-2zM335.40 73.90h2v2h-2zM335.40 75.90h2v2h-2zM335.40 88.90h2v2h-2zM335.40 102.90h2v2h-2zM337.40 142.90h2v2h-2zM364.40 30.90h2v2h-2zM364.40 31.90h2v2h-2zM364.40 33.90h2v2h-2zM364.40 35.90h2v2h-2zM364.40 37.90h2v2h-2zM364.40 42.90h2v2h-2zM364.40 44.90h2v2h-2zM364.40 46.90h2v2h-2zM364.40 55.90h2v2h-2zM364.40 57.90h2v2h-2zM364.40 66.90h2v2h-2zM364.40 68.90h2v2h-2zM364.40 71.90h2v2h-2zM364.40 77.90h2v2h-2zM364.40 93.90h2v2h-2zM364.40 110.90h2v2h-2zM364.40 117.90h2v2h-2zM364.40 122.90h2v2h-2zM364.40 126.90h2v2h-2zM364.40 133.90h2v2h-2zM410.40 79.90h2v2h-2zM410.40 80.90h2v2h-2zM410.40 86.90h2v2h-2zM410.40 90.90h2v2h-2zM410.40 91.90h2v2h-2zM410.40 95.90h2v2h-2zM410.40 97.90h2v2h-2zM410.40 106.90h2v2h-2zM410.40 115.90h2v2h-2zM410.40 117.90h2v2h-2zM410.40 122.90h2v2h-2zM410.40 128.90h2v2h-2zM410.40 130.90h2v2h-2zM410.40 131.90h2v2h-2zM418.40 139.90h2v2h-2zM421.40 139.90h2v2h-2zM421.40 144.90h2v2h-2zM421.40 166.90h2v2h-2zM421.40 169.90h2v2h-2zM421.40 175.90h2v2h-2zM421.40 179.90h2v2h-2zM421.40 188.90h2v2h-2zM421.40 200.90h2v2h-2zM421.40 211.90h2v2h-2zM421.40 215.90h2v2h-2zM421.40 222.90h2v2h-2zM421.40 235.90h2v2h-2zM437.40 111.90h2v2h-2zM437.40 113.90h2v2h-2zM437.40 119.90h2v2h-2zM437.40 128.90h2v2h-2zM437.40 139.90h2v2h-2zM453.40 120.90h2v2h-2zM453.40 124.90h2v2h-2zM453.40 131.90h2v2h-2zM448.40 153.90h2v2h-2zM448.40 171.90h2v2h-2zM448.40 197.90h2v2h-2zM448.40 204.90h2v2h-2zM459.40 213.90h2v2h-2zM210.40 62.90h2v2h-2zM232.40 62.90h2v2h-2zM234.40 62.90h2v2h-2zM235.40 62.90h2v2h-2zM246.40 62.90h2v2h-2zM250.40 62.90h2v2h-2zM253.40 62.90h2v2h-2zM264.40 62.90h2v2h-2zM271.40 62.90h2v2h-2zM278.40 62.90h2v2h-2zM287.40 62.90h2v2h-2zM301.40 62.90h2v2h-2zM312.40 62.90h2v2h-2zM316.40 62.90h2v2h-2zM323.40 62.90h2v2h-2zM327.40 62.90h2v2h-2zM330.40 62.90h2v2h-2zM341.40 62.90h2v2h-2zM216.40 115.90h2v2h-2zM237.40 115.90h2v2h-2zM294.40 115.90h2v2h-2zM305.40 115.90h2v2h-2zM339.40 115.90h2v2h-2zM239.40 31.90h2v2h-2zM250.40 31.90h2v2h-2zM264.40 31.90h2v2h-2zM278.40 31.90h2v2h-2zM285.40 31.90h2v2h-2zM296.40 31.90h2v2h-2zM307.40 31.90h2v2h-2zM441.40 140.90h2v2h-2zM448.40 140.90h2v2h-2zM455.40 140.90h2v2h-2zM459.40 140.90h2v2h-2zM466.40 140.90h2v2h-2zM287.40 175.90h2v2h-2zM293.40 175.90h2v2h-2zM298.40 175.90h2v2h-2zM323.40 15.90h2v2h-2zM218.40 13.90h2v2h-2zM219.40 13.90h2v2h-2zM228.40 26.90h2v2h-2zM230.40 28.90h2v2h-2zM232.40 30.90h2v2h-2zM235.40 31.90h2v2h-2zM235.40 33.90h2v2h-2zM291.40 13.90h2v2h-2zM289.40 19.90h2v2h-2zM287.40 22.90h2v2h-2zM285.40 24.90h2v2h-2zM327.40 19.90h2v2h-2zM337.40 24.90h2v2h-2zM339.40 26.90h2v2h-2zM348.40 30.90h2v2h-2zM357.40 37.90h2v2h-2zM384.40 46.90h2v2h-2zM285.40 206.90h2v2h-2zM294.40 217.90h2v2h-2zM346.40 24.90h2v2h-2zM359.40 21.90h2v2h-2zM348.40 21.90h2v2h-2zM348.40 19.90h2v2h-2z"/><path fill="#59157E" shape-rendering="crispEdges" d="M194.40 77.90h2v2h-2zM194.40 84.90h2v2h-2zM194.40 88.90h2v2h-2zM194.40 95.90h2v2h-2zM194.40 106.90h2v2h-2zM203.40 60.90h2v2h-2zM203.40 64.90h2v2h-2zM203.40 93.90h2v2h-2zM203.40 100.90h2v2h-2zM203.40 108.90h2v2h-2zM207.40 113.90h2v2h-2zM209.40 115.90h2v2h-2zM209.40 57.90h2v2h-2zM209.40 60.90h2v2h-2zM209.40 71.90h2v2h-2zM209.40 75.90h2v2h-2zM209.40 100.90h2v2h-2zM212.40 77.90h2v2h-2zM212.40 84.90h2v2h-2zM212.40 91.90h2v2h-2zM212.40 95.90h2v2h-2zM225.40 62.90h2v2h-2zM225.40 66.90h2v2h-2zM225.40 88.90h2v2h-2zM225.40 91.90h2v2h-2zM225.40 99.90h2v2h-2zM230.40 62.90h2v2h-2zM230.40 66.90h2v2h-2zM230.40 73.90h2v2h-2zM230.40 77.90h2v2h-2zM230.40 84.90h2v2h-2zM230.40 95.90h2v2h-2zM230.40 99.90h2v2h-2zM230.40 102.90h2v2h-2zM223.40 41.90h2v2h-2zM225.40 55.90h2v2h-2zM225.40 57.90h2v2h-2zM221.40 57.90h2v2h-2zM219.40 55.90h2v2h-2zM219.40 51.90h2v2h-2zM219.40 48.90h2v2h-2zM219.40 44.90h2v2h-2zM219.40 42.90h2v2h-2zM239.40 35.90h2v2h-2zM239.40 39.90h2v2h-2zM239.40 42.90h2v2h-2zM239.40 53.90h2v2h-2zM239.40 60.90h2v2h-2zM239.40 75.90h2v2h-2zM239.40 79.90h2v2h-2zM239.40 82.90h2v2h-2zM239.40 97.90h2v2h-2zM239.40 104.90h2v2h-2zM239.40 111.90h2v2h-2zM259.40 24.90h2v2h-2zM259.40 41.90h2v2h-2zM259.40 55.90h2v2h-2zM259.40 59.90h2v2h-2zM259.40 70.90h2v2h-2zM259.40 73.90h2v2h-2zM259.40 95.90h2v2h-2zM259.40 99.90h2v2h-2zM259.40 106.90h2v2h-2zM266.40 31.90h2v2h-2zM266.40 35.90h2v2h-2zM266.40 46.90h2v2h-2zM275.40 28.90h2v2h-2zM275.40 31.90h2v2h-2zM275.40 33.90h2v2h-2zM275.40 35.90h2v2h-2zM275.40 42.90h2v2h-2zM275.40 48.90h2v2h-2zM275.40 59.90h2v2h-2zM275.40 60.90h2v2h-2zM275.40 68.90h2v2h-2zM275.40 100.90h2v2h-2zM284.40 28.90h2v2h-2zM284.40 35.90h2v2h-2zM284.40 37.90h2v2h-2zM284.40 44.90h2v2h-2zM284.40 48.90h2v2h-2zM284.40 50.90h2v2h-2zM284.40 75.90h2v2h-2zM284.40 80.90h2v2h-2zM284.40 93.90h2v2h-2zM284.40 110.90h2v2h-2zM284.40 119.90h2v2h-2zM284.40 120.90h2v2h-2zM284.40 124.90h2v2h-2zM284.40 126.90h2v2h-2zM284.40 135.90h2v2h-2zM284.40 137.90h2v2h-2zM284.40 142.90h2v2h-2zM312.40 21.90h2v2h-2zM312.40 24.90h2v2h-2zM312.40 31.90h2v2h-2zM312.40 39.90h2v2h-2zM312.40 42.90h2v2h-2zM312.40 50.90h2v2h-2zM312.40 53.90h2v2h-2zM309.40 79.90h2v2h-2zM307.40 80.90h2v2h-2zM305.40 95.90h2v2h-2zM303.40 110.90h2v2h-2zM303.40 119.90h2v2h-2zM303.40 122.90h2v2h-2zM303.40 128.90h2v2h-2zM303.40 133.90h2v2h-2zM303.40 144.90h2v2h-2zM303.40 160.90h2v2h-2zM303.40 188.90h2v2h-2zM303.40 193.90h2v2h-2zM303.40 220.90h2v2h-2zM335.40 30.90h2v2h-2zM335.40 31.90h2v2h-2zM335.40 42.90h2v2h-2zM335.40 44.90h2v2h-2zM335.40 53.90h2v2h-2zM335.40 57.90h2v2h-2zM335.40 60.90h2v2h-2zM335.40 70.90h2v2h-2zM335.40 71.90h2v2h-2zM335.40 84.90h2v2h-2zM335.40 99.90h2v2h-2zM335.40 106.90h2v2h-2zM335.40 110.90h2v2h-2zM335.40 117.90h2v2h-2zM337.40 124.90h2v2h-2zM337.40 135.90h2v2h-2zM337.40 139.90h2v2h-2zM337.40 146.90h2v2h-2zM323.40 79.90h2v2h-2zM355.40 97.90h2v2h-2zM355.40 99.90h2v2h-2zM355.40 104.90h2v2h-2zM355.40 108.90h2v2h-2zM355.40 115.90h2v2h-2zM364.40 39.90h2v2h-2zM364.40 50.90h2v2h-2zM364.40 53.90h2v2h-2zM364.40 60.90h2v2h-2zM364.40 79.90h2v2h-2zM364.40 82.90h2v2h-2zM364.40 90.90h2v2h-2zM364.40 95.90h2v2h-2zM364.40 100.90h2v2h-2zM364.40 104.90h2v2h-2zM364.40 106.90h2v2h-2zM364.40 115.90h2v2h-2zM364.40 131.90h2v2h-2zM384.40 135.90h2v2h-2zM410.40 77.90h2v2h-2zM410.40 82.90h2v2h-2zM410.40 88.90h2v2h-2zM410.40 93.90h2v2h-2zM410.40 104.90h2v2h-2zM410.40 120.90h2v2h-2zM418.40 137.90h2v2h-2zM419.40 139.90h2v2h-2zM421.40 140.90h2v2h-2zM421.40 142.90h2v2h-2zM421.40 151.90h2v2h-2zM421.40 153.90h2v2h-2zM421.40 157.90h2v2h-2zM421.40 159.90h2v2h-2zM421.40 160.90h2v2h-2zM421.40 162.90h2v2h-2zM421.40 177.90h2v2h-2zM421.40 182.90h2v2h-2zM421.40 189.90h2v2h-2zM421.40 193.90h2v2h-2zM421.40 202.90h2v2h-2zM421.40 206.90h2v2h-2zM421.40 224.90h2v2h-2zM421.40 228.90h2v2h-2zM421.40 229.90h2v2h-2zM437.40 124.90h2v2h-2zM437.40 130.90h2v2h-2zM437.40 133.90h2v2h-2zM437.40 135.90h2v2h-2zM452.40 106.90h2v2h-2zM453.40 130.90h2v2h-2zM453.40 140.90h2v2h-2zM452.40 146.90h2v2h-2zM448.40 166.90h2v2h-2zM448.40 177.90h2v2h-2zM448.40 208.90h2v2h-2zM471.40 213.90h2v2h-2zM468.40 139.90h2v2h-2zM203.40 62.90h2v2h-2zM205.40 62.90h2v2h-2zM214.40 62.90h2v2h-2zM218.40 62.90h2v2h-2zM219.40 62.90h2v2h-2zM221.40 62.90h2v2h-2zM226.40 62.90h2v2h-2zM228.40 62.90h2v2h-2zM239.40 62.90h2v2h-2zM241.40 62.90h2v2h-2zM243.40 62.90h2v2h-2zM248.40 62.90h2v2h-2zM260.40 62.90h2v2h-2zM268.40 62.90h2v2h-2zM269.40 62.90h2v2h-2zM276.40 62.90h2v2h-2zM284.40 62.90h2v2h-2zM294.40 62.90h2v2h-2zM309.40 62.90h2v2h-2zM319.40 62.90h2v2h-2zM334.40 62.90h2v2h-2zM337.40 62.90h2v2h-2zM344.40 62.90h2v2h-2zM355.40 62.90h2v2h-2zM362.40 62.90h2v2h-2zM366.40 62.90h2v2h-2zM377.40 62.90h2v2h-2zM380.40 62.90h2v2h-2zM384.40 62.90h2v2h-2zM218.40 115.90h2v2h-2zM219.40 115.90h2v2h-2zM223.40 115.90h2v2h-2zM255.40 115.90h2v2h-2zM269.40 115.90h2v2h-2zM282.40 115.90h2v2h-2zM253.40 31.90h2v2h-2zM257.40 31.90h2v2h-2zM260.40 31.90h2v2h-2zM271.40 31.90h2v2h-2zM282.40 31.90h2v2h-2zM289.40 31.90h2v2h-2zM293.40 31.90h2v2h-2zM300.40 31.90h2v2h-2zM303.40 31.90h2v2h-2zM310.40 31.90h2v2h-2zM318.40 31.90h2v2h-2zM325.40 31.90h2v2h-2zM328.40 31.90h2v2h-2zM452.40 140.90h2v2h-2zM462.40 140.90h2v2h-2zM341.40 15.90h2v2h-2zM218.40 11.90h2v2h-2zM219.40 15.90h2v2h-2zM223.40 17.90h2v2h-2zM223.40 19.90h2v2h-2zM237.40 33.90h2v2h-2zM237.40 35.90h2v2h-2zM291.40 15.90h2v2h-2zM287.40 19.90h2v2h-2zM287.40 21.90h2v2h-2zM285.40 22.90h2v2h-2zM325.40 17.90h2v2h-2zM344.40 30.90h2v2h-2zM350.40 31.90h2v2h-2zM289.40 211.90h2v2h-2zM339.40 17.90h2v2h-2zM339.40 24.90h2v2h-2zM346.40 13.90h2v2h-2zM346.40 21.90h2v2h-2zM359.40 13.90h2v2h-2zM359.40 17.90h2v2h-2zM359.40 24.90h2v2h-2zM237.40 144.90h2v2h-2zM250.40 180.90h2v2h-2zM251.40 180.90h2v2h-2zM235.40 140.90h2v2h-2zM352.40 21.90h2v2h-2zM362.40 21.90h2v2h-2zM368.40 24.90h2v2h-2z"/><path fill="#3D0F71" shape-rendering="crispEdges" d="M194.40 66.90h2v2h-2zM194.40 80.90h2v2h-2zM203.40 86.90h2v2h-2zM218.40 120.90h2v2h-2zM209.40 79.90h2v2h-2zM209.40 97.90h2v2h-2zM221.40 41.90h2v2h-2zM225.40 42.90h2v2h-2zM239.40 57.90h2v2h-2zM248.40 50.90h2v2h-2zM259.40 26.90h2v2h-2zM259.40 30.90h2v2h-2zM259.40 42.90h2v2h-2zM259.40 84.90h2v2h-2zM259.40 111.90h2v2h-2zM259.40 130.90h2v2h-2zM275.40 39.90h2v2h-2zM275.40 55.90h2v2h-2zM275.40 66.90h2v2h-2zM275.40 71.90h2v2h-2zM275.40 122.90h2v2h-2zM284.40 31.90h2v2h-2zM284.40 33.90h2v2h-2zM284.40 41.90h2v2h-2zM284.40 46.90h2v2h-2zM284.40 51.90h2v2h-2zM284.40 55.90h2v2h-2zM284.40 91.90h2v2h-2zM284.40 102.90h2v2h-2zM284.40 104.90h2v2h-2zM307.40 88.90h2v2h-2zM305.40 91.90h2v2h-2zM303.40 126.90h2v2h-2zM303.40 139.90h2v2h-2zM303.40 166.90h2v2h-2zM335.40 17.90h2v2h-2zM335.40 26.90h2v2h-2zM335.40 28.90h2v2h-2zM335.40 51.90h2v2h-2zM335.40 91.90h2v2h-2zM335.40 120.90h2v2h-2zM355.40 100.90h2v2h-2zM355.40 106.90h2v2h-2zM355.40 110.90h2v2h-2zM355.40 111.90h2v2h-2zM355.40 113.90h2v2h-2zM355.40 124.90h2v2h-2zM355.40 126.90h2v2h-2zM355.40 128.90h2v2h-2zM355.40 130.90h2v2h-2zM355.40 131.90h2v2h-2zM355.40 135.90h2v2h-2zM364.40 48.90h2v2h-2zM364.40 51.90h2v2h-2zM364.40 62.90h2v2h-2zM364.40 99.90h2v2h-2zM364.40 111.90h2v2h-2zM364.40 120.90h2v2h-2zM364.40 128.90h2v2h-2zM384.40 95.90h2v2h-2zM384.40 99.90h2v2h-2zM384.40 100.90h2v2h-2zM384.40 102.90h2v2h-2zM384.40 104.90h2v2h-2zM384.40 106.90h2v2h-2zM384.40 111.90h2v2h-2zM384.40 115.90h2v2h-2zM384.40 117.90h2v2h-2zM384.40 119.90h2v2h-2zM384.40 120.90h2v2h-2zM384.40 124.90h2v2h-2zM384.40 126.90h2v2h-2zM384.40 128.90h2v2h-2zM410.40 75.90h2v2h-2zM410.40 100.90h2v2h-2zM410.40 111.90h2v2h-2zM410.40 124.90h2v2h-2zM410.40 126.90h2v2h-2zM421.40 168.90h2v2h-2zM421.40 195.90h2v2h-2zM421.40 197.90h2v2h-2zM421.40 226.90h2v2h-2zM421.40 233.90h2v2h-2zM437.40 117.90h2v2h-2zM437.40 122.90h2v2h-2zM443.40 93.90h2v2h-2zM444.40 100.90h2v2h-2zM446.40 100.90h2v2h-2zM446.40 102.90h2v2h-2zM450.40 104.90h2v2h-2zM450.40 148.90h2v2h-2zM448.40 151.90h2v2h-2zM448.40 189.90h2v2h-2zM448.40 206.90h2v2h-2zM453.40 213.90h2v2h-2zM466.40 213.90h2v2h-2zM459.40 124.90h2v2h-2zM466.40 139.90h2v2h-2zM255.40 62.90h2v2h-2zM257.40 62.90h2v2h-2zM262.40 62.90h2v2h-2zM282.40 62.90h2v2h-2zM298.40 62.90h2v2h-2zM348.40 62.90h2v2h-2zM352.40 62.90h2v2h-2zM369.40 62.90h2v2h-2zM260.40 115.90h2v2h-2zM262.40 115.90h2v2h-2zM280.40 115.90h2v2h-2zM296.40 115.90h2v2h-2zM243.40 31.90h2v2h-2zM225.40 19.90h2v2h-2zM293.40 11.90h2v2h-2zM289.40 17.90h2v2h-2zM373.40 26.90h2v2h-2z"/><path fill="#21114E" shape-rendering="crispEdges" d="M355.40 95.90h2v2h-2zM355.40 102.90h2v2h-2zM355.40 117.90h2v2h-2zM355.40 119.90h2v2h-2zM355.40 120.90h2v2h-2zM355.40 122.90h2v2h-2zM355.40 133.90h2v2h-2zM384.40 97.90h2v2h-2zM384.40 108.90h2v2h-2zM384.40 110.90h2v2h-2zM384.40 113.90h2v2h-2zM384.40 122.90h2v2h-2zM384.40 130.90h2v2h-2zM384.40 131.90h2v2h-2zM384.40 133.90h2v2h-2zM460.40 124.90h2v2h-2z"/>
<rect x="0.7" y="0.7" width="641.9" height="270.8" fill="none" stroke="#333" stroke-width="1.42"/>
</g>
<rect x="914.9" y="63.1" width="46.4" height="272.2" fill="#D9D9D9"/>
<rect x="915.6" y="63.8" width="45.0" height="270.8" fill="none" stroke="#333" stroke-width="1.42"/>
<text transform="translate(938.1 199.2) rotate(90)" text-anchor="middle" font-size="23.47" fill="#1A1A1A" y="8.0">1989-1999</text>
<line x1="264.3" x2="271.6" y1="108.2" y2="108.2" stroke="#333" stroke-width="2.85"/>
<text x="258.4" y="117.5" text-anchor="end" font-size="23.47" fill="#4D4D4D">40</text>
<line x1="264.3" x2="271.6" y1="180.9" y2="180.9" stroke="#333" stroke-width="2.85"/>
<text x="258.4" y="190.2" text-anchor="end" font-size="23.47" fill="#4D4D4D">0</text>
<line x1="264.3" x2="271.6" y1="253.5" y2="253.5" stroke="#333" stroke-width="2.85"/>
<text x="258.4" y="262.8" text-anchor="end" font-size="23.47" fill="#4D4D4D">-40</text>
<line x1="264.3" x2="271.6" y1="326.2" y2="326.2" stroke="#333" stroke-width="2.85"/>
<text x="258.4" y="335.5" text-anchor="end" font-size="23.47" fill="#4D4D4D">-80</text>
<g transform="translate(271.6 350.0)" clip-path="url(#pc)">
<rect width="643.3" height="272.2" fill="#fff"/>
<use href="#grid"/>
<use href="#land" fill="#CCCCCC" shape-rendering="crispEdges"/>
<polyline fill="none" stroke="#51127C" stroke-width="1.1" points="204.7,63.9 394.0,63.9"/><polyline fill="none" stroke="#51127C" stroke-width="1.2" stroke-dasharray="5 1.5" points="335.9,96.9 338.1,149.4"/><polyline fill="none" stroke="#51127C" stroke-width="1.0" points="324.3,18.1 336.8,24.4 364.5,41.9"/><path fill="#FCFDBF" shape-rendering="crispEdges" d="M218.40 118.00h2v2h-2zM234.40 118.00h2v2h-2zM237.40 118.00h2v2h-2zM209.40 70.00h2v2h-2zM209.40 74.00h2v2h-2zM209.40 90.00h2v2h-2zM209.40 103.00h2v2h-2zM209.40 109.00h2v2h-2zM216.40 116.00h2v2h-2zM259.40 32.00h2v2h-2zM259.40 76.00h2v2h-2zM301.40 158.00h2v2h-2zM289.40 7.00h2v2h-2zM293.40 3.00h2v2h-2zM305.40 5.00h2v2h-2z"/><path fill="#FDE0A1" shape-rendering="crispEdges" d="M216.40 118.00h2v2h-2zM228.40 118.00h2v2h-2zM232.40 118.00h2v2h-2zM209.40 56.00h2v2h-2zM209.40 60.00h2v2h-2zM209.40 65.00h2v2h-2zM209.40 67.00h2v2h-2zM209.40 69.00h2v2h-2zM209.40 78.00h2v2h-2zM209.40 85.00h2v2h-2zM209.40 87.00h2v2h-2zM209.40 89.00h2v2h-2zM209.40 92.00h2v2h-2zM209.40 96.00h2v2h-2zM209.40 98.00h2v2h-2zM209.40 100.00h2v2h-2zM209.40 101.00h2v2h-2zM209.40 110.00h2v2h-2zM209.40 112.00h2v2h-2zM210.40 114.00h2v2h-2zM212.40 114.00h2v2h-2zM212.40 116.00h2v2h-2zM259.40 41.00h2v2h-2zM259.40 58.00h2v2h-2zM275.40 49.00h2v2h-2zM298.40 190.00h2v2h-2z"/><path fill="#FEC185" shape-rendering="crispEdges" d="M235.40 118.00h2v2h-2zM259.40 47.00h2v2h-2zM259.40 69.00h2v2h-2zM259.40 87.00h2v2h-2zM275.40 87.00h2v2h-2zM275.40 92.00h2v2h-2zM301.40 181.00h2v2h-2zM300.40 11.00h2v2h-2zM307.40 11.00h2v2h-2z"/><path fill="#FEA16E" shape-rendering="crispEdges" d="M230.40 118.00h2v2h-2zM259.40 29.00h2v2h-2zM259.40 60.00h2v2h-2zM275.40 70.00h2v2h-2zM275.40 76.00h2v2h-2zM275.40 98.00h2v2h-2zM301.40 134.00h2v2h-2zM301.40 145.00h2v2h-2zM301.40 185.00h2v2h-2zM298.40 201.00h2v2h-2zM301.40 205.00h2v2h-2zM289.40 9.00h2v2h-2zM303.40 9.00h2v2h-2zM305.40 11.00h2v2h-2zM307.40 3.00h2v2h-2zM309.40 11.00h2v2h-2z"/><path fill="#FA815F" shape-rendering="crispEdges" d="M259.40 27.00h2v2h-2zM293.40 5.00h2v2h-2zM298.40 9.00h2v2h-2zM307.40 12.00h2v2h-2zM309.40 7.00h2v2h-2zM184.40 69.00h2v2h-2zM187.40 63.00h2v2h-2z"/><path fill="#F2625D" shape-rendering="crispEdges" d="M209.40 72.00h2v2h-2zM221.40 118.00h2v2h-2zM260.40 118.00h2v2h-2zM285.40 118.00h2v2h-2zM296.40 118.00h2v2h-2zM310.40 118.00h2v2h-2zM209.40 81.00h2v2h-2zM259.40 83.00h2v2h-2zM259.40 96.00h2v2h-2zM259.40 120.00h2v2h-2zM301.40 176.00h2v2h-2zM294.40 194.00h2v2h-2zM214.40 234.00h2v2h-2zM225.40 45.00h2v2h-2zM223.40 40.00h2v2h-2zM291.40 7.00h2v2h-2zM310.40 5.00h2v2h-2zM182.40 70.00h2v2h-2zM185.40 70.00h2v2h-2zM185.40 69.00h2v2h-2zM185.40 65.00h2v2h-2zM189.40 60.00h2v2h-2zM191.40 61.00h2v2h-2zM359.40 18.00h2v2h-2zM362.40 20.00h2v2h-2zM221.40 45.00h2v2h-2zM382.40 29.00h2v2h-2z"/><path fill="#DF4A68" shape-rendering="crispEdges" d="M237.40 63.00h2v2h-2zM241.40 63.00h2v2h-2zM310.40 63.00h2v2h-2zM344.40 63.00h2v2h-2zM353.40 63.00h2v2h-2zM380.40 63.00h2v2h-2zM243.40 118.00h2v2h-2zM250.40 118.00h2v2h-2zM271.40 118.00h2v2h-2zM278.40 118.00h2v2h-2zM282.40 118.00h2v2h-2zM293.40 118.00h2v2h-2zM209.40 61.00h2v2h-2zM209.40 76.00h2v2h-2zM209.40 80.00h2v2h-2zM259.40 43.00h2v2h-2zM259.40 70.00h2v2h-2zM301.40 170.00h2v2h-2zM300.40 189.00h2v2h-2zM294.40 199.00h2v2h-2zM296.40 199.00h2v2h-2zM301.40 207.00h2v2h-2zM214.40 212.00h2v2h-2zM182.40 69.00h2v2h-2zM184.40 60.00h2v2h-2zM185.40 60.00h2v2h-2zM187.40 70.00h2v2h-2zM187.40 67.00h2v2h-2zM189.40 67.00h2v2h-2zM191.40 69.00h2v2h-2zM191.40 63.00h2v2h-2zM350.40 16.00h2v2h-2zM353.40 16.00h2v2h-2zM355.40 23.00h2v2h-2zM369.40 27.00h2v2h-2zM223.40 51.00h2v2h-2zM228.40 43.00h2v2h-2z"/><path fill="#C73D73" shape-rendering="crispEdges" d="M269.40 63.00h2v2h-2zM273.40 63.00h2v2h-2zM343.40 63.00h2v2h-2zM251.40 118.00h2v2h-2zM264.40 118.00h2v2h-2zM289.40 118.00h2v2h-2zM307.40 118.00h2v2h-2zM314.40 118.00h2v2h-2zM318.40 118.00h2v2h-2zM209.40 58.00h2v2h-2zM209.40 63.00h2v2h-2zM214.40 116.00h2v2h-2zM259.40 45.00h2v2h-2zM259.40 65.00h2v2h-2zM259.40 67.00h2v2h-2zM259.40 100.00h2v2h-2zM259.40 103.00h2v2h-2zM259.40 107.00h2v2h-2zM301.40 165.00h2v2h-2zM301.40 174.00h2v2h-2zM300.40 185.00h2v2h-2zM300.40 187.00h2v2h-2zM214.40 207.00h2v2h-2zM214.40 223.00h2v2h-2zM223.40 41.00h2v2h-2zM228.40 41.00h2v2h-2zM223.40 47.00h2v2h-2zM350.40 25.00h2v2h-2zM364.40 23.00h2v2h-2zM364.40 20.00h2v2h-2z"/><path fill="#AA337D" shape-rendering="crispEdges" d="M391.40 63.00h2v2h-2zM223.40 118.00h2v2h-2zM226.40 118.00h2v2h-2zM259.40 116.00h2v2h-2zM301.40 138.00h2v2h-2zM223.40 54.00h2v2h-2zM380.40 36.00h2v2h-2z"/><path fill="#902A81" shape-rendering="crispEdges" d="M260.40 63.00h2v2h-2zM318.40 63.00h2v2h-2zM339.40 63.00h2v2h-2zM389.40 63.00h2v2h-2zM237.40 72.00h2v2h-2zM248.40 72.00h2v2h-2zM298.40 72.00h2v2h-2zM385.40 65.00h2v2h-2zM268.40 32.00h2v2h-2zM300.40 32.00h2v2h-2zM339.40 32.00h2v2h-2zM378.40 32.00h2v2h-2zM246.40 118.00h2v2h-2zM253.40 118.00h2v2h-2zM269.40 14.00h2v2h-2zM287.40 14.00h2v2h-2zM291.40 14.00h2v2h-2zM230.40 92.00h2v2h-2zM228.40 103.00h2v2h-2zM226.40 112.00h2v2h-2zM239.40 76.00h2v2h-2zM259.40 74.00h2v2h-2zM259.40 109.00h2v2h-2zM305.40 116.00h2v2h-2zM305.40 121.00h2v2h-2zM305.40 130.00h2v2h-2zM301.40 136.00h2v2h-2zM301.40 179.00h2v2h-2zM298.40 203.00h2v2h-2zM334.40 21.00h2v2h-2zM334.40 31.00h2v2h-2zM334.40 32.00h2v2h-2zM334.40 47.00h2v2h-2zM334.40 54.00h2v2h-2zM334.40 63.00h2v2h-2zM334.40 78.00h2v2h-2zM364.40 51.00h2v2h-2zM262.40 16.00h2v2h-2zM284.40 27.00h2v2h-2zM287.40 21.00h2v2h-2zM294.40 11.00h2v2h-2zM355.40 36.00h2v2h-2zM402.40 69.00h2v2h-2zM268.40 92.00h2v2h-2zM380.40 41.00h2v2h-2z"/><path fill="#732081" shape-rendering="crispEdges" d="M246.40 63.00h2v2h-2zM248.40 63.00h2v2h-2zM255.40 63.00h2v2h-2zM266.40 63.00h2v2h-2zM271.40 63.00h2v2h-2zM294.40 63.00h2v2h-2zM327.40 63.00h2v2h-2zM337.40 63.00h2v2h-2zM341.40 63.00h2v2h-2zM350.40 63.00h2v2h-2zM378.40 63.00h2v2h-2zM387.40 63.00h2v2h-2zM193.40 72.00h2v2h-2zM194.40 72.00h2v2h-2zM200.40 72.00h2v2h-2zM201.40 72.00h2v2h-2zM205.40 72.00h2v2h-2zM207.40 72.00h2v2h-2zM210.40 72.00h2v2h-2zM212.40 72.00h2v2h-2zM214.40 72.00h2v2h-2zM216.40 72.00h2v2h-2zM219.40 72.00h2v2h-2zM226.40 72.00h2v2h-2zM228.40 72.00h2v2h-2zM234.40 72.00h2v2h-2zM239.40 72.00h2v2h-2zM241.40 72.00h2v2h-2zM250.40 72.00h2v2h-2zM255.40 72.00h2v2h-2zM262.40 72.00h2v2h-2zM264.40 72.00h2v2h-2zM271.40 72.00h2v2h-2zM273.40 72.00h2v2h-2zM275.40 72.00h2v2h-2zM278.40 72.00h2v2h-2zM291.40 72.00h2v2h-2zM301.40 72.00h2v2h-2zM305.40 72.00h2v2h-2zM309.40 72.00h2v2h-2zM327.40 72.00h2v2h-2zM334.40 72.00h2v2h-2zM337.40 72.00h2v2h-2zM344.40 72.00h2v2h-2zM348.40 72.00h2v2h-2zM355.40 72.00h2v2h-2zM359.40 72.00h2v2h-2zM377.40 72.00h2v2h-2zM384.40 67.00h2v2h-2zM391.40 61.00h2v2h-2zM239.40 32.00h2v2h-2zM246.40 32.00h2v2h-2zM253.40 32.00h2v2h-2zM264.40 32.00h2v2h-2zM282.40 32.00h2v2h-2zM293.40 32.00h2v2h-2zM296.40 32.00h2v2h-2zM303.40 32.00h2v2h-2zM307.40 32.00h2v2h-2zM314.40 32.00h2v2h-2zM325.40 32.00h2v2h-2zM350.40 32.00h2v2h-2zM364.40 32.00h2v2h-2zM368.40 32.00h2v2h-2zM371.40 32.00h2v2h-2zM375.40 32.00h2v2h-2zM225.40 118.00h2v2h-2zM239.40 118.00h2v2h-2zM241.40 118.00h2v2h-2zM244.40 118.00h2v2h-2zM275.40 118.00h2v2h-2zM259.40 14.00h2v2h-2zM273.40 14.00h2v2h-2zM276.40 14.00h2v2h-2zM209.40 94.00h2v2h-2zM209.40 107.00h2v2h-2zM230.40 54.00h2v2h-2zM230.40 56.00h2v2h-2zM230.40 60.00h2v2h-2zM230.40 65.00h2v2h-2zM230.40 76.00h2v2h-2zM230.40 78.00h2v2h-2zM230.40 98.00h2v2h-2zM230.40 100.00h2v2h-2zM225.40 112.00h2v2h-2zM223.40 120.00h2v2h-2zM239.40 36.00h2v2h-2zM239.40 38.00h2v2h-2zM239.40 40.00h2v2h-2zM239.40 41.00h2v2h-2zM239.40 43.00h2v2h-2zM239.40 52.00h2v2h-2zM239.40 54.00h2v2h-2zM239.40 56.00h2v2h-2zM239.40 61.00h2v2h-2zM239.40 70.00h2v2h-2zM239.40 78.00h2v2h-2zM239.40 85.00h2v2h-2zM239.40 87.00h2v2h-2zM239.40 89.00h2v2h-2zM239.40 90.00h2v2h-2zM239.40 92.00h2v2h-2zM239.40 94.00h2v2h-2zM239.40 96.00h2v2h-2zM239.40 100.00h2v2h-2zM239.40 110.00h2v2h-2zM239.40 112.00h2v2h-2zM239.40 116.00h2v2h-2zM259.40 34.00h2v2h-2zM259.40 36.00h2v2h-2zM259.40 40.00h2v2h-2zM259.40 52.00h2v2h-2zM259.40 56.00h2v2h-2zM259.40 80.00h2v2h-2zM259.40 81.00h2v2h-2zM259.40 89.00h2v2h-2zM259.40 90.00h2v2h-2zM259.40 94.00h2v2h-2zM259.40 98.00h2v2h-2zM259.40 105.00h2v2h-2zM259.40 110.00h2v2h-2zM259.40 114.00h2v2h-2zM259.40 127.00h2v2h-2zM275.40 54.00h2v2h-2zM275.40 81.00h2v2h-2zM248.40 43.00h2v2h-2zM248.40 45.00h2v2h-2zM248.40 49.00h2v2h-2zM305.40 118.00h2v2h-2zM305.40 125.00h2v2h-2zM305.40 127.00h2v2h-2zM305.40 129.00h2v2h-2zM305.40 132.00h2v2h-2zM301.40 139.00h2v2h-2zM301.40 141.00h2v2h-2zM301.40 149.00h2v2h-2zM301.40 152.00h2v2h-2zM301.40 154.00h2v2h-2zM301.40 156.00h2v2h-2zM301.40 163.00h2v2h-2zM301.40 167.00h2v2h-2zM296.40 194.00h2v2h-2zM294.40 196.00h2v2h-2zM293.40 196.00h2v2h-2zM294.40 198.00h2v2h-2zM296.40 201.00h2v2h-2zM300.40 205.00h2v2h-2zM334.40 16.00h2v2h-2zM334.40 25.00h2v2h-2zM334.40 34.00h2v2h-2zM334.40 41.00h2v2h-2zM334.40 51.00h2v2h-2zM334.40 52.00h2v2h-2zM334.40 65.00h2v2h-2zM334.40 76.00h2v2h-2zM334.40 80.00h2v2h-2zM334.40 83.00h2v2h-2zM334.40 87.00h2v2h-2zM334.40 89.00h2v2h-2zM334.40 90.00h2v2h-2zM334.40 92.00h2v2h-2zM364.40 43.00h2v2h-2zM364.40 45.00h2v2h-2zM364.40 47.00h2v2h-2zM364.40 52.00h2v2h-2zM364.40 54.00h2v2h-2zM364.40 56.00h2v2h-2zM364.40 60.00h2v2h-2zM214.40 228.00h2v2h-2zM226.40 49.00h2v2h-2zM228.40 51.00h2v2h-2zM248.40 31.00h2v2h-2zM250.40 29.00h2v2h-2zM250.40 31.00h2v2h-2zM251.40 29.00h2v2h-2zM255.40 25.00h2v2h-2zM259.40 20.00h2v2h-2zM260.40 20.00h2v2h-2zM260.40 18.00h2v2h-2zM264.40 14.00h2v2h-2zM285.40 25.00h2v2h-2zM285.40 23.00h2v2h-2zM289.40 21.00h2v2h-2zM289.40 18.00h2v2h-2zM293.40 16.00h2v2h-2zM293.40 14.00h2v2h-2zM294.40 12.00h2v2h-2zM341.40 27.00h2v2h-2zM353.40 34.00h2v2h-2zM346.40 36.00h2v2h-2zM346.40 40.00h2v2h-2zM400.40 65.00h2v2h-2zM403.40 69.00h2v2h-2zM300.40 149.00h2v2h-2zM268.40 87.00h2v2h-2zM268.40 89.00h2v2h-2zM268.40 90.00h2v2h-2zM225.40 41.00h2v2h-2zM348.40 18.00h2v2h-2zM369.40 25.00h2v2h-2zM391.40 54.00h2v2h-2zM389.40 54.00h2v2h-2zM384.40 51.00h2v2h-2zM384.40 45.00h2v2h-2zM382.40 45.00h2v2h-2zM380.40 38.00h2v2h-2zM384.40 31.00h2v2h-2zM380.40 31.00h2v2h-2z"/><path fill="#59157E" shape-rendering="crispEdges" d="M210.40 63.00h2v2h-2zM214.40 63.00h2v2h-2zM253.40 63.00h2v2h-2zM298.40 63.00h2v2h-2zM325.40 63.00h2v2h-2zM348.40 63.00h2v2h-2zM355.40 63.00h2v2h-2zM191.40 72.00h2v2h-2zM196.40 72.00h2v2h-2zM198.40 72.00h2v2h-2zM203.40 72.00h2v2h-2zM218.40 72.00h2v2h-2zM221.40 72.00h2v2h-2zM223.40 72.00h2v2h-2zM225.40 72.00h2v2h-2zM230.40 72.00h2v2h-2zM232.40 72.00h2v2h-2zM235.40 72.00h2v2h-2zM243.40 72.00h2v2h-2zM244.40 72.00h2v2h-2zM246.40 72.00h2v2h-2zM251.40 72.00h2v2h-2zM253.40 72.00h2v2h-2zM257.40 72.00h2v2h-2zM260.40 72.00h2v2h-2zM266.40 72.00h2v2h-2zM268.40 72.00h2v2h-2zM269.40 72.00h2v2h-2zM276.40 72.00h2v2h-2zM282.40 72.00h2v2h-2zM287.40 72.00h2v2h-2zM294.40 72.00h2v2h-2zM319.40 72.00h2v2h-2zM330.40 72.00h2v2h-2zM341.40 72.00h2v2h-2zM352.40 72.00h2v2h-2zM362.40 72.00h2v2h-2zM366.40 72.00h2v2h-2zM369.40 72.00h2v2h-2zM373.40 72.00h2v2h-2zM378.40 70.00h2v2h-2zM382.40 69.00h2v2h-2zM393.40 60.00h2v2h-2zM243.40 32.00h2v2h-2zM250.40 32.00h2v2h-2zM257.40 32.00h2v2h-2zM271.40 32.00h2v2h-2zM275.40 32.00h2v2h-2zM278.40 32.00h2v2h-2zM285.40 32.00h2v2h-2zM289.40 32.00h2v2h-2zM310.40 32.00h2v2h-2zM318.40 32.00h2v2h-2zM321.40 32.00h2v2h-2zM328.40 32.00h2v2h-2zM343.40 32.00h2v2h-2zM346.40 32.00h2v2h-2zM353.40 32.00h2v2h-2zM357.40 32.00h2v2h-2zM360.40 32.00h2v2h-2zM382.40 32.00h2v2h-2zM219.40 118.00h2v2h-2zM248.40 118.00h2v2h-2zM255.40 118.00h2v2h-2zM257.40 118.00h2v2h-2zM268.40 118.00h2v2h-2zM300.40 118.00h2v2h-2zM303.40 118.00h2v2h-2zM262.40 14.00h2v2h-2zM266.40 14.00h2v2h-2zM280.40 14.00h2v2h-2zM284.40 14.00h2v2h-2zM294.40 14.00h2v2h-2zM209.40 105.00h2v2h-2zM230.40 61.00h2v2h-2zM230.40 67.00h2v2h-2zM230.40 70.00h2v2h-2zM230.40 81.00h2v2h-2zM230.40 83.00h2v2h-2zM230.40 87.00h2v2h-2zM230.40 89.00h2v2h-2zM230.40 94.00h2v2h-2zM228.40 107.00h2v2h-2zM225.40 116.00h2v2h-2zM223.40 121.00h2v2h-2zM239.40 34.00h2v2h-2zM239.40 45.00h2v2h-2zM239.40 47.00h2v2h-2zM239.40 49.00h2v2h-2zM239.40 51.00h2v2h-2zM239.40 58.00h2v2h-2zM239.40 60.00h2v2h-2zM239.40 65.00h2v2h-2zM239.40 69.00h2v2h-2zM239.40 74.00h2v2h-2zM239.40 83.00h2v2h-2zM239.40 101.00h2v2h-2zM239.40 103.00h2v2h-2zM239.40 109.00h2v2h-2zM239.40 114.00h2v2h-2zM259.40 23.00h2v2h-2zM259.40 25.00h2v2h-2zM259.40 31.00h2v2h-2zM259.40 38.00h2v2h-2zM259.40 49.00h2v2h-2zM259.40 51.00h2v2h-2zM259.40 61.00h2v2h-2zM259.40 63.00h2v2h-2zM259.40 78.00h2v2h-2zM259.40 85.00h2v2h-2zM259.40 101.00h2v2h-2zM259.40 112.00h2v2h-2zM275.40 43.00h2v2h-2zM284.40 29.00h2v2h-2zM284.40 32.00h2v2h-2zM284.40 80.00h2v2h-2zM284.40 92.00h2v2h-2zM284.40 105.00h2v2h-2zM280.40 159.00h2v2h-2zM280.40 165.00h2v2h-2zM276.40 181.00h2v2h-2zM248.40 38.00h2v2h-2zM248.40 40.00h2v2h-2zM248.40 51.00h2v2h-2zM305.40 123.00h2v2h-2zM305.40 134.00h2v2h-2zM301.40 143.00h2v2h-2zM301.40 147.00h2v2h-2zM301.40 150.00h2v2h-2zM301.40 159.00h2v2h-2zM301.40 161.00h2v2h-2zM301.40 169.00h2v2h-2zM301.40 172.00h2v2h-2zM301.40 178.00h2v2h-2zM301.40 183.00h2v2h-2zM298.40 189.00h2v2h-2zM296.40 192.00h2v2h-2zM303.40 208.00h2v2h-2zM334.40 14.00h2v2h-2zM334.40 18.00h2v2h-2zM334.40 20.00h2v2h-2zM334.40 23.00h2v2h-2zM334.40 27.00h2v2h-2zM334.40 29.00h2v2h-2zM334.40 36.00h2v2h-2zM334.40 38.00h2v2h-2zM334.40 40.00h2v2h-2zM334.40 43.00h2v2h-2zM334.40 45.00h2v2h-2zM334.40 60.00h2v2h-2zM334.40 61.00h2v2h-2zM334.40 67.00h2v2h-2zM334.40 69.00h2v2h-2zM334.40 70.00h2v2h-2zM334.40 74.00h2v2h-2zM334.40 81.00h2v2h-2zM334.40 85.00h2v2h-2zM334.40 94.00h2v2h-2zM364.40 49.00h2v2h-2zM364.40 58.00h2v2h-2zM364.40 61.00h2v2h-2zM409.40 76.00h2v2h-2zM409.40 81.00h2v2h-2zM409.40 98.00h2v2h-2zM409.40 116.00h2v2h-2zM409.40 118.00h2v2h-2zM410.40 127.00h2v2h-2zM412.40 129.00h2v2h-2zM421.40 138.00h2v2h-2zM421.40 167.00h2v2h-2zM421.40 170.00h2v2h-2zM421.40 172.00h2v2h-2zM421.40 183.00h2v2h-2zM421.40 198.00h2v2h-2zM421.40 216.00h2v2h-2zM421.40 219.00h2v2h-2zM421.40 221.00h2v2h-2zM421.40 223.00h2v2h-2zM421.40 230.00h2v2h-2zM421.40 232.00h2v2h-2zM421.40 236.00h2v2h-2zM225.40 43.00h2v2h-2zM226.40 47.00h2v2h-2zM228.40 52.00h2v2h-2zM244.40 31.00h2v2h-2zM246.40 31.00h2v2h-2zM251.40 27.00h2v2h-2zM253.40 27.00h2v2h-2zM259.40 21.00h2v2h-2zM262.40 18.00h2v2h-2zM287.40 23.00h2v2h-2zM289.40 20.00h2v2h-2zM291.40 18.00h2v2h-2zM291.40 16.00h2v2h-2zM296.40 11.00h2v2h-2zM327.40 18.00h2v2h-2zM357.40 38.00h2v2h-2zM364.40 41.00h2v2h-2zM346.40 29.00h2v2h-2zM400.40 67.00h2v2h-2zM402.40 67.00h2v2h-2zM296.40 149.00h2v2h-2zM268.40 85.00h2v2h-2zM223.40 43.00h2v2h-2zM223.40 45.00h2v2h-2zM353.40 27.00h2v2h-2zM359.40 23.00h2v2h-2zM218.40 51.00h2v2h-2zM219.40 51.00h2v2h-2zM219.40 43.00h2v2h-2zM226.40 52.00h2v2h-2zM230.40 51.00h2v2h-2zM393.40 56.00h2v2h-2zM391.40 56.00h2v2h-2zM387.40 54.00h2v2h-2zM385.40 51.00h2v2h-2zM385.40 49.00h2v2h-2zM384.40 49.00h2v2h-2zM385.40 45.00h2v2h-2zM382.40 41.00h2v2h-2zM382.40 38.00h2v2h-2zM384.40 36.00h2v2h-2zM382.40 31.00h2v2h-2zM394.40 60.00h2v2h-2z"/><path fill="#3D0F71" shape-rendering="crispEdges" d="M234.40 63.00h2v2h-2zM243.40 63.00h2v2h-2zM287.40 63.00h2v2h-2zM312.40 63.00h2v2h-2zM314.40 63.00h2v2h-2zM359.40 63.00h2v2h-2zM259.40 72.00h2v2h-2zM280.40 72.00h2v2h-2zM284.40 72.00h2v2h-2zM312.40 72.00h2v2h-2zM316.40 72.00h2v2h-2zM323.40 72.00h2v2h-2zM260.40 32.00h2v2h-2zM332.40 32.00h2v2h-2zM335.40 32.00h2v2h-2zM259.40 118.00h2v2h-2zM209.40 83.00h2v2h-2zM230.40 103.00h2v2h-2zM226.40 109.00h2v2h-2zM239.40 63.00h2v2h-2zM239.40 67.00h2v2h-2zM239.40 80.00h2v2h-2zM239.40 81.00h2v2h-2zM239.40 98.00h2v2h-2zM239.40 105.00h2v2h-2zM239.40 107.00h2v2h-2zM259.40 54.00h2v2h-2zM259.40 92.00h2v2h-2zM259.40 121.00h2v2h-2zM259.40 123.00h2v2h-2zM259.40 125.00h2v2h-2zM275.40 60.00h2v2h-2zM275.40 65.00h2v2h-2zM284.40 31.00h2v2h-2zM284.40 34.00h2v2h-2zM284.40 36.00h2v2h-2zM284.40 38.00h2v2h-2zM284.40 40.00h2v2h-2zM284.40 41.00h2v2h-2zM284.40 43.00h2v2h-2zM284.40 45.00h2v2h-2zM284.40 47.00h2v2h-2zM284.40 49.00h2v2h-2zM284.40 52.00h2v2h-2zM284.40 58.00h2v2h-2zM284.40 65.00h2v2h-2zM284.40 67.00h2v2h-2zM284.40 69.00h2v2h-2zM284.40 74.00h2v2h-2zM284.40 81.00h2v2h-2zM284.40 87.00h2v2h-2zM284.40 90.00h2v2h-2zM284.40 94.00h2v2h-2zM284.40 98.00h2v2h-2zM284.40 100.00h2v2h-2zM284.40 101.00h2v2h-2zM284.40 103.00h2v2h-2zM284.40 107.00h2v2h-2zM284.40 109.00h2v2h-2zM284.40 110.00h2v2h-2zM284.40 112.00h2v2h-2zM284.40 114.00h2v2h-2zM284.40 116.00h2v2h-2zM284.40 120.00h2v2h-2zM284.40 121.00h2v2h-2zM284.40 123.00h2v2h-2zM284.40 125.00h2v2h-2zM284.40 127.00h2v2h-2zM284.40 129.00h2v2h-2zM284.40 130.00h2v2h-2zM284.40 132.00h2v2h-2zM284.40 134.00h2v2h-2zM284.40 136.00h2v2h-2zM284.40 138.00h2v2h-2zM284.40 139.00h2v2h-2zM284.40 143.00h2v2h-2zM282.40 147.00h2v2h-2zM282.40 152.00h2v2h-2zM282.40 156.00h2v2h-2zM280.40 156.00h2v2h-2zM280.40 161.00h2v2h-2zM280.40 163.00h2v2h-2zM278.40 169.00h2v2h-2zM278.40 170.00h2v2h-2zM278.40 172.00h2v2h-2zM278.40 176.00h2v2h-2zM305.40 120.00h2v2h-2zM300.40 203.00h2v2h-2zM334.40 49.00h2v2h-2zM334.40 56.00h2v2h-2zM334.40 58.00h2v2h-2zM334.40 96.00h2v2h-2zM409.40 74.00h2v2h-2zM409.40 78.00h2v2h-2zM409.40 80.00h2v2h-2zM409.40 87.00h2v2h-2zM409.40 89.00h2v2h-2zM409.40 90.00h2v2h-2zM409.40 92.00h2v2h-2zM409.40 94.00h2v2h-2zM409.40 100.00h2v2h-2zM409.40 105.00h2v2h-2zM409.40 109.00h2v2h-2zM409.40 110.00h2v2h-2zM409.40 114.00h2v2h-2zM409.40 120.00h2v2h-2zM409.40 121.00h2v2h-2zM409.40 123.00h2v2h-2zM409.40 125.00h2v2h-2zM409.40 127.00h2v2h-2zM414.40 130.00h2v2h-2zM416.40 130.00h2v2h-2zM418.40 130.00h2v2h-2zM418.40 132.00h2v2h-2zM421.40 132.00h2v2h-2zM421.40 134.00h2v2h-2zM421.40 136.00h2v2h-2zM421.40 139.00h2v2h-2zM421.40 145.00h2v2h-2zM421.40 152.00h2v2h-2zM421.40 158.00h2v2h-2zM421.40 161.00h2v2h-2zM421.40 163.00h2v2h-2zM421.40 176.00h2v2h-2zM421.40 185.00h2v2h-2zM421.40 187.00h2v2h-2zM421.40 189.00h2v2h-2zM421.40 190.00h2v2h-2zM421.40 194.00h2v2h-2zM421.40 196.00h2v2h-2zM421.40 199.00h2v2h-2zM421.40 203.00h2v2h-2zM421.40 205.00h2v2h-2zM421.40 207.00h2v2h-2zM421.40 208.00h2v2h-2zM421.40 210.00h2v2h-2zM421.40 212.00h2v2h-2zM421.40 214.00h2v2h-2zM421.40 218.00h2v2h-2zM421.40 225.00h2v2h-2zM421.40 234.00h2v2h-2zM214.40 218.00h2v2h-2zM241.40 32.00h2v2h-2zM257.40 23.00h2v2h-2zM362.40 41.00h2v2h-2zM346.40 43.00h2v2h-2zM346.40 47.00h2v2h-2zM298.40 149.00h2v2h-2zM385.40 54.00h2v2h-2zM385.40 47.00h2v2h-2zM384.40 47.00h2v2h-2zM382.40 47.00h2v2h-2zM384.40 41.00h2v2h-2zM384.40 38.00h2v2h-2zM382.40 36.00h2v2h-2zM382.40 34.00h2v2h-2zM393.40 58.00h2v2h-2zM394.40 58.00h2v2h-2zM396.40 60.00h2v2h-2z"/><path fill="#21114E" shape-rendering="crispEdges" d="M275.40 38.00h2v2h-2zM284.40 51.00h2v2h-2zM284.40 54.00h2v2h-2zM284.40 56.00h2v2h-2zM284.40 60.00h2v2h-2zM284.40 61.00h2v2h-2zM284.40 63.00h2v2h-2zM284.40 70.00h2v2h-2zM284.40 76.00h2v2h-2zM284.40 78.00h2v2h-2zM284.40 83.00h2v2h-2zM284.40 85.00h2v2h-2zM284.40 89.00h2v2h-2zM284.40 96.00h2v2h-2zM284.40 118.00h2v2h-2zM284.40 141.00h2v2h-2zM284.40 145.00h2v2h-2zM282.40 154.00h2v2h-2zM280.40 158.00h2v2h-2zM280.40 167.00h2v2h-2zM278.40 167.00h2v2h-2zM278.40 174.00h2v2h-2zM276.40 178.00h2v2h-2zM276.40 179.00h2v2h-2zM409.40 83.00h2v2h-2zM409.40 85.00h2v2h-2zM409.40 96.00h2v2h-2zM409.40 101.00h2v2h-2zM409.40 103.00h2v2h-2zM409.40 107.00h2v2h-2zM409.40 112.00h2v2h-2zM410.40 129.00h2v2h-2zM414.40 129.00h2v2h-2zM419.40 132.00h2v2h-2zM421.40 141.00h2v2h-2zM421.40 143.00h2v2h-2zM421.40 147.00h2v2h-2zM421.40 149.00h2v2h-2zM421.40 150.00h2v2h-2zM421.40 154.00h2v2h-2zM421.40 156.00h2v2h-2zM421.40 159.00h2v2h-2zM421.40 165.00h2v2h-2zM421.40 169.00h2v2h-2zM421.40 174.00h2v2h-2zM421.40 178.00h2v2h-2zM421.40 179.00h2v2h-2zM421.40 181.00h2v2h-2zM421.40 192.00h2v2h-2zM421.40 201.00h2v2h-2zM421.40 227.00h2v2h-2zM421.40 228.00h2v2h-2zM221.40 41.00h2v2h-2zM226.40 41.00h2v2h-2zM387.40 51.00h2v2h-2zM382.40 51.00h2v2h-2zM380.40 45.00h2v2h-2zM384.40 34.00h2v2h-2zM380.40 34.00h2v2h-2zM380.40 29.00h2v2h-2zM378.40 29.00h2v2h-2zM396.40 58.00h2v2h-2z"/>
<rect x="0.7" y="0.7" width="641.9" height="270.8" fill="none" stroke="#333" stroke-width="1.42"/>
</g>
<rect x="914.9" y="350.0" width="46.4" height="272.2" fill="#D9D9D9"/>
<rect x="915.6" y="350.7" width="45.0" height="270.8" fill="none" stroke="#333" stroke-width="1.42"/>
<text transform="translate(938.1 486.1) rotate(90)" text-anchor="middle" font-size="23.47" fill="#1A1A1A" y="8.0">2000-2009</text>
<line x1="264.3" x2="271.6" y1="395.1" y2="395.1" stroke="#333" stroke-width="2.85"/>
<text x="258.4" y="404.4" text-anchor="end" font-size="23.47" fill="#4D4D4D">40</text>
<line x1="264.3" x2="271.6" y1="467.8" y2="467.8" stroke="#333" stroke-width="2.85"/>
<text x="258.4" y="477.1" text-anchor="end" font-size="23.47" fill="#4D4D4D">0</text>
<line x1="264.3" x2="271.6" y1="540.4" y2="540.4" stroke="#333" stroke-width="2.85"/>
<text x="258.4" y="549.7" text-anchor="end" font-size="23.47" fill="#4D4D4D">-40</text>
<line x1="264.3" x2="271.6" y1="613.1" y2="613.1" stroke="#333" stroke-width="2.85"/>
<text x="258.4" y="622.4" text-anchor="end" font-size="23.47" fill="#4D4D4D">-80</text>
<g transform="translate(271.6 636.9)" clip-path="url(#pc)">
<rect width="643.3" height="272.2" fill="#fff"/>
<use href="#grid"/>
<use href="#land" fill="#CCCCCC" shape-rendering="crispEdges"/>
<polyline fill="none" stroke="#51127C" stroke-width="1.5" stroke-dasharray="14 2" points="284.1,63.9 396.7,63.9"/><polyline fill="none" stroke="#51127C" stroke-width="1.0" stroke-dasharray="3 2.5" points="239.5,32.8 384.2,32.8"/><polyline fill="none" stroke="#51127C" stroke-width="1.0" stroke-dasharray="4 2" points="196.6,73.3 284.1,73.3"/><polyline fill="none" stroke="#51127C" stroke-width="1.1" points="335.9,99.6 338.1,148.1"/><path fill="#FCFDBF" shape-rendering="crispEdges" d="M305.40 118.10h2v2h-2zM301.40 141.10h2v2h-2zM301.40 143.10h2v2h-2zM301.40 172.10h2v2h-2z"/><path fill="#FDE0A1" shape-rendering="crispEdges" d="M305.40 119.10h2v2h-2zM301.40 181.10h2v2h-2zM300.40 188.10h2v2h-2zM301.40 214.10h2v2h-2zM287.40 10.10h2v2h-2zM289.40 10.10h2v2h-2zM293.40 10.10h2v2h-2zM312.40 5.10h2v2h-2zM194.40 74.10h2v2h-2zM198.40 70.10h2v2h-2z"/><path fill="#FEC185" shape-rendering="crispEdges" d="M305.40 123.10h2v2h-2zM301.40 161.10h2v2h-2zM301.40 163.10h2v2h-2zM301.40 199.10h2v2h-2zM301.40 225.10h2v2h-2zM301.40 230.10h2v2h-2zM301.40 12.10h2v2h-2zM301.40 5.10h2v2h-2zM305.40 5.10h2v2h-2zM196.40 69.10h2v2h-2z"/><path fill="#FEA16E" shape-rendering="crispEdges" d="M301.40 158.10h2v2h-2zM301.40 174.10h2v2h-2zM301.40 176.10h2v2h-2zM301.40 221.10h2v2h-2zM289.40 7.10h2v2h-2zM293.40 12.10h2v2h-2zM294.40 9.10h2v2h-2zM294.40 5.10h2v2h-2zM303.40 14.10h2v2h-2z"/><path fill="#FA815F" shape-rendering="crispEdges" d="M307.40 7.10h2v2h-2zM191.40 67.10h2v2h-2zM193.40 72.10h2v2h-2z"/><path fill="#F2625D" shape-rendering="crispEdges" d="M352.40 27.10h2v2h-2zM285.40 7.10h2v2h-2zM296.40 9.10h2v2h-2zM296.40 5.10h2v2h-2zM300.40 12.10h2v2h-2zM300.40 10.10h2v2h-2zM310.40 12.10h2v2h-2zM310.40 5.10h2v2h-2zM198.40 74.10h2v2h-2zM201.40 72.10h2v2h-2zM382.40 45.10h2v2h-2z"/><path fill="#DF4A68" shape-rendering="crispEdges" d="M357.40 27.10h2v2h-2zM360.40 27.10h2v2h-2zM362.40 27.10h2v2h-2zM305.40 132.10h2v2h-2zM298.40 188.10h2v2h-2zM294.40 194.10h2v2h-2zM301.40 212.10h2v2h-2zM301.40 223.10h2v2h-2zM221.40 45.10h2v2h-2zM225.40 45.10h2v2h-2zM298.40 10.10h2v2h-2zM219.40 54.10h2v2h-2zM380.40 40.10h2v2h-2z"/><path fill="#C73D73" shape-rendering="crispEdges" d="M346.40 27.10h2v2h-2zM350.40 27.10h2v2h-2zM301.40 232.10h2v2h-2zM223.40 45.10h2v2h-2zM384.40 41.10h2v2h-2zM380.40 29.10h2v2h-2z"/><path fill="#AA337D" shape-rendering="crispEdges" d="M346.40 25.10h2v2h-2zM226.40 45.10h2v2h-2zM228.40 59.10h2v2h-2z"/><path fill="#902A81" shape-rendering="crispEdges" d="M219.40 63.10h2v2h-2zM221.40 63.10h2v2h-2zM235.40 63.10h2v2h-2zM237.40 63.10h2v2h-2zM266.40 63.10h2v2h-2zM273.40 63.10h2v2h-2zM262.40 72.10h2v2h-2zM264.40 72.10h2v2h-2zM282.40 69.10h2v2h-2zM318.40 32.10h2v2h-2zM330.40 32.10h2v2h-2zM243.40 43.10h2v2h-2zM209.40 99.10h2v2h-2zM219.40 99.10h2v2h-2zM244.40 99.10h2v2h-2zM218.40 118.10h2v2h-2zM219.40 118.10h2v2h-2zM230.40 118.10h2v2h-2zM251.40 118.10h2v2h-2zM271.40 103.10h2v2h-2zM334.40 18.10h2v2h-2zM343.40 16.10h2v2h-2zM352.40 14.10h2v2h-2zM209.40 65.10h2v2h-2zM209.40 74.10h2v2h-2zM207.40 65.10h2v2h-2zM207.40 70.10h2v2h-2zM207.40 81.10h2v2h-2zM230.40 56.10h2v2h-2zM259.40 43.10h2v2h-2zM259.40 50.10h2v2h-2zM259.40 56.10h2v2h-2zM259.40 87.10h2v2h-2zM259.40 107.10h2v2h-2zM259.40 109.10h2v2h-2zM259.40 112.10h2v2h-2zM257.40 25.10h2v2h-2zM257.40 85.10h2v2h-2zM268.40 47.10h2v2h-2zM268.40 54.10h2v2h-2zM264.40 49.10h2v2h-2zM305.40 121.10h2v2h-2zM305.40 130.10h2v2h-2zM301.40 165.10h2v2h-2zM301.40 168.10h2v2h-2zM298.40 190.10h2v2h-2zM301.40 201.10h2v2h-2zM334.40 16.10h2v2h-2zM334.40 23.10h2v2h-2zM334.40 36.10h2v2h-2zM334.40 47.10h2v2h-2zM334.40 50.10h2v2h-2zM334.40 58.10h2v2h-2zM334.40 67.10h2v2h-2zM334.40 92.10h2v2h-2zM400.40 69.10h2v2h-2zM241.40 36.10h2v2h-2zM384.40 45.10h2v2h-2z"/><path fill="#732081" shape-rendering="crispEdges" d="M210.40 63.10h2v2h-2zM223.40 63.10h2v2h-2zM226.40 63.10h2v2h-2zM230.40 63.10h2v2h-2zM234.40 63.10h2v2h-2zM239.40 63.10h2v2h-2zM241.40 63.10h2v2h-2zM246.40 63.10h2v2h-2zM250.40 63.10h2v2h-2zM253.40 63.10h2v2h-2zM255.40 63.10h2v2h-2zM257.40 63.10h2v2h-2zM268.40 63.10h2v2h-2zM269.40 63.10h2v2h-2zM271.40 63.10h2v2h-2zM275.40 63.10h2v2h-2zM282.40 63.10h2v2h-2zM298.40 63.10h2v2h-2zM300.40 63.10h2v2h-2zM310.40 63.10h2v2h-2zM312.40 63.10h2v2h-2zM314.40 63.10h2v2h-2zM321.40 63.10h2v2h-2zM328.40 63.10h2v2h-2zM355.40 63.10h2v2h-2zM362.40 63.10h2v2h-2zM371.40 63.10h2v2h-2zM375.40 63.10h2v2h-2zM378.40 63.10h2v2h-2zM391.40 63.10h2v2h-2zM196.40 72.10h2v2h-2zM207.40 72.10h2v2h-2zM244.40 72.10h2v2h-2zM276.40 72.10h2v2h-2zM282.40 67.10h2v2h-2zM284.40 69.10h2v2h-2zM284.40 70.10h2v2h-2zM287.40 32.10h2v2h-2zM291.40 32.10h2v2h-2zM293.40 32.10h2v2h-2zM309.40 32.10h2v2h-2zM312.40 32.10h2v2h-2zM239.40 43.10h2v2h-2zM248.40 43.10h2v2h-2zM255.40 43.10h2v2h-2zM259.40 45.10h2v2h-2zM260.40 45.10h2v2h-2zM264.40 45.10h2v2h-2zM212.40 99.10h2v2h-2zM223.40 99.10h2v2h-2zM226.40 99.10h2v2h-2zM230.40 99.10h2v2h-2zM232.40 99.10h2v2h-2zM234.40 99.10h2v2h-2zM237.40 99.10h2v2h-2zM241.40 99.10h2v2h-2zM246.40 99.10h2v2h-2zM225.40 118.10h2v2h-2zM228.40 118.10h2v2h-2zM241.40 118.10h2v2h-2zM255.40 118.10h2v2h-2zM257.40 118.10h2v2h-2zM264.40 107.10h2v2h-2zM269.40 105.10h2v2h-2zM276.40 101.10h2v2h-2zM282.40 99.10h2v2h-2zM335.40 18.10h2v2h-2zM339.40 16.10h2v2h-2zM341.40 16.10h2v2h-2zM346.40 16.10h2v2h-2zM364.40 14.10h2v2h-2zM366.40 14.10h2v2h-2zM355.40 27.10h2v2h-2zM209.40 56.10h2v2h-2zM209.40 58.10h2v2h-2zM209.40 72.10h2v2h-2zM209.40 87.10h2v2h-2zM209.40 90.10h2v2h-2zM209.40 94.10h2v2h-2zM209.40 96.10h2v2h-2zM209.40 105.10h2v2h-2zM209.40 109.10h2v2h-2zM209.40 110.10h2v2h-2zM209.40 112.10h2v2h-2zM210.40 114.10h2v2h-2zM212.40 116.10h2v2h-2zM214.40 116.10h2v2h-2zM216.40 118.10h2v2h-2zM207.40 56.10h2v2h-2zM207.40 58.10h2v2h-2zM207.40 67.10h2v2h-2zM207.40 74.10h2v2h-2zM207.40 85.10h2v2h-2zM207.40 96.10h2v2h-2zM207.40 101.10h2v2h-2zM230.40 45.10h2v2h-2zM230.40 47.10h2v2h-2zM230.40 49.10h2v2h-2zM230.40 50.10h2v2h-2zM230.40 58.10h2v2h-2zM230.40 59.10h2v2h-2zM230.40 69.10h2v2h-2zM230.40 70.10h2v2h-2zM230.40 74.10h2v2h-2zM230.40 78.10h2v2h-2zM230.40 81.10h2v2h-2zM230.40 85.10h2v2h-2zM230.40 87.10h2v2h-2zM230.40 92.10h2v2h-2zM230.40 96.10h2v2h-2zM230.40 105.10h2v2h-2zM228.40 107.10h2v2h-2zM228.40 109.10h2v2h-2zM225.40 116.10h2v2h-2zM259.40 25.10h2v2h-2zM259.40 27.10h2v2h-2zM259.40 30.10h2v2h-2zM259.40 41.10h2v2h-2zM259.40 59.10h2v2h-2zM259.40 61.10h2v2h-2zM259.40 65.10h2v2h-2zM259.40 67.10h2v2h-2zM259.40 70.10h2v2h-2zM259.40 76.10h2v2h-2zM259.40 78.10h2v2h-2zM259.40 81.10h2v2h-2zM259.40 85.10h2v2h-2zM259.40 92.10h2v2h-2zM259.40 99.10h2v2h-2zM259.40 103.10h2v2h-2zM259.40 105.10h2v2h-2zM259.40 114.10h2v2h-2zM259.40 118.10h2v2h-2zM259.40 119.10h2v2h-2zM259.40 121.10h2v2h-2zM253.40 127.10h2v2h-2zM251.40 130.10h2v2h-2zM257.40 32.10h2v2h-2zM257.40 41.10h2v2h-2zM257.40 43.10h2v2h-2zM257.40 47.10h2v2h-2zM257.40 54.10h2v2h-2zM257.40 61.10h2v2h-2zM257.40 65.10h2v2h-2zM257.40 69.10h2v2h-2zM257.40 70.10h2v2h-2zM257.40 72.10h2v2h-2zM257.40 76.10h2v2h-2zM257.40 78.10h2v2h-2zM257.40 92.10h2v2h-2zM268.40 49.10h2v2h-2zM268.40 52.10h2v2h-2zM264.40 56.10h2v2h-2zM305.40 127.10h2v2h-2zM303.40 132.10h2v2h-2zM301.40 136.10h2v2h-2zM301.40 139.10h2v2h-2zM301.40 145.10h2v2h-2zM301.40 147.10h2v2h-2zM301.40 148.10h2v2h-2zM301.40 150.10h2v2h-2zM301.40 154.10h2v2h-2zM301.40 156.10h2v2h-2zM301.40 170.10h2v2h-2zM301.40 178.10h2v2h-2zM301.40 179.10h2v2h-2zM301.40 187.10h2v2h-2zM296.40 196.10h2v2h-2zM300.40 197.10h2v2h-2zM303.40 201.10h2v2h-2zM301.40 203.10h2v2h-2zM301.40 219.10h2v2h-2zM334.40 29.10h2v2h-2zM334.40 38.10h2v2h-2zM334.40 41.10h2v2h-2zM334.40 45.10h2v2h-2zM334.40 54.10h2v2h-2zM334.40 56.10h2v2h-2zM334.40 63.10h2v2h-2zM334.40 69.10h2v2h-2zM334.40 74.10h2v2h-2zM334.40 76.10h2v2h-2zM334.40 79.10h2v2h-2zM334.40 87.10h2v2h-2zM334.40 90.10h2v2h-2zM334.40 94.10h2v2h-2zM334.40 96.10h2v2h-2zM201.40 59.10h2v2h-2zM207.40 61.10h2v2h-2zM239.40 36.10h2v2h-2zM248.40 32.10h2v2h-2zM255.40 29.10h2v2h-2zM225.40 41.10h2v2h-2zM226.40 41.10h2v2h-2zM228.40 41.10h2v2h-2zM228.40 45.10h2v2h-2zM219.40 58.10h2v2h-2zM221.40 50.10h2v2h-2zM225.40 56.10h2v2h-2zM225.40 49.10h2v2h-2zM385.40 45.10h2v2h-2zM380.40 41.10h2v2h-2zM382.40 32.10h2v2h-2zM382.40 29.10h2v2h-2z"/><path fill="#59157E" shape-rendering="crispEdges" d="M201.40 63.10h2v2h-2zM203.40 63.10h2v2h-2zM205.40 63.10h2v2h-2zM207.40 63.10h2v2h-2zM212.40 63.10h2v2h-2zM214.40 63.10h2v2h-2zM216.40 63.10h2v2h-2zM218.40 63.10h2v2h-2zM225.40 63.10h2v2h-2zM228.40 63.10h2v2h-2zM232.40 63.10h2v2h-2zM243.40 63.10h2v2h-2zM244.40 63.10h2v2h-2zM248.40 63.10h2v2h-2zM251.40 63.10h2v2h-2zM259.40 63.10h2v2h-2zM262.40 63.10h2v2h-2zM276.40 63.10h2v2h-2zM278.40 63.10h2v2h-2zM280.40 63.10h2v2h-2zM284.40 63.10h2v2h-2zM296.40 63.10h2v2h-2zM307.40 63.10h2v2h-2zM316.40 63.10h2v2h-2zM332.40 63.10h2v2h-2zM344.40 63.10h2v2h-2zM353.40 63.10h2v2h-2zM368.40 63.10h2v2h-2zM384.40 63.10h2v2h-2zM385.40 63.10h2v2h-2zM225.40 72.10h2v2h-2zM259.40 72.10h2v2h-2zM332.40 32.10h2v2h-2zM353.40 32.10h2v2h-2zM368.40 32.10h2v2h-2zM371.40 32.10h2v2h-2zM375.40 32.10h2v2h-2zM223.40 43.10h2v2h-2zM228.40 43.10h2v2h-2zM232.40 43.10h2v2h-2zM234.40 43.10h2v2h-2zM237.40 43.10h2v2h-2zM244.40 43.10h2v2h-2zM253.40 43.10h2v2h-2zM266.40 45.10h2v2h-2zM210.40 99.10h2v2h-2zM216.40 99.10h2v2h-2zM218.40 99.10h2v2h-2zM225.40 99.10h2v2h-2zM239.40 99.10h2v2h-2zM251.40 99.10h2v2h-2zM253.40 99.10h2v2h-2zM255.40 99.10h2v2h-2zM223.40 118.10h2v2h-2zM234.40 118.10h2v2h-2zM235.40 118.10h2v2h-2zM239.40 118.10h2v2h-2zM246.40 118.10h2v2h-2zM250.40 118.10h2v2h-2zM266.40 105.10h2v2h-2zM275.40 103.10h2v2h-2zM280.40 101.10h2v2h-2zM337.40 18.10h2v2h-2zM337.40 16.10h2v2h-2zM344.40 16.10h2v2h-2zM348.40 16.10h2v2h-2zM350.40 16.10h2v2h-2zM352.40 16.10h2v2h-2zM353.40 14.10h2v2h-2zM357.40 14.10h2v2h-2zM359.40 14.10h2v2h-2zM360.40 14.10h2v2h-2zM366.40 27.10h2v2h-2zM209.40 61.10h2v2h-2zM209.40 67.10h2v2h-2zM209.40 70.10h2v2h-2zM209.40 76.10h2v2h-2zM209.40 78.10h2v2h-2zM209.40 79.10h2v2h-2zM209.40 81.10h2v2h-2zM209.40 83.10h2v2h-2zM209.40 89.10h2v2h-2zM209.40 92.10h2v2h-2zM209.40 98.10h2v2h-2zM209.40 101.10h2v2h-2zM209.40 103.10h2v2h-2zM209.40 114.10h2v2h-2zM212.40 114.10h2v2h-2zM214.40 118.10h2v2h-2zM207.40 59.10h2v2h-2zM207.40 78.10h2v2h-2zM207.40 79.10h2v2h-2zM207.40 87.10h2v2h-2zM207.40 89.10h2v2h-2zM207.40 92.10h2v2h-2zM207.40 99.10h2v2h-2zM207.40 103.10h2v2h-2zM207.40 107.10h2v2h-2zM207.40 109.10h2v2h-2zM230.40 54.10h2v2h-2zM230.40 61.10h2v2h-2zM230.40 65.10h2v2h-2zM230.40 67.10h2v2h-2zM230.40 72.10h2v2h-2zM230.40 76.10h2v2h-2zM230.40 79.10h2v2h-2zM230.40 83.10h2v2h-2zM230.40 89.10h2v2h-2zM230.40 90.10h2v2h-2zM230.40 94.10h2v2h-2zM230.40 98.10h2v2h-2zM230.40 101.10h2v2h-2zM230.40 103.10h2v2h-2zM228.40 110.10h2v2h-2zM226.40 112.10h2v2h-2zM226.40 114.10h2v2h-2zM259.40 29.10h2v2h-2zM259.40 32.10h2v2h-2zM259.40 34.10h2v2h-2zM259.40 36.10h2v2h-2zM259.40 40.10h2v2h-2zM259.40 47.10h2v2h-2zM259.40 49.10h2v2h-2zM259.40 52.10h2v2h-2zM259.40 54.10h2v2h-2zM259.40 58.10h2v2h-2zM259.40 69.10h2v2h-2zM259.40 74.10h2v2h-2zM259.40 79.10h2v2h-2zM259.40 83.10h2v2h-2zM259.40 89.10h2v2h-2zM259.40 90.10h2v2h-2zM259.40 94.10h2v2h-2zM259.40 98.10h2v2h-2zM259.40 110.10h2v2h-2zM259.40 116.10h2v2h-2zM257.40 121.10h2v2h-2zM257.40 123.10h2v2h-2zM255.40 123.10h2v2h-2zM255.40 125.10h2v2h-2zM253.40 128.10h2v2h-2zM251.40 128.10h2v2h-2zM250.40 132.10h2v2h-2zM257.40 27.10h2v2h-2zM257.40 29.10h2v2h-2zM257.40 34.10h2v2h-2zM257.40 36.10h2v2h-2zM257.40 40.10h2v2h-2zM257.40 49.10h2v2h-2zM257.40 50.10h2v2h-2zM257.40 58.10h2v2h-2zM257.40 79.10h2v2h-2zM257.40 83.10h2v2h-2zM257.40 87.10h2v2h-2zM257.40 90.10h2v2h-2zM257.40 98.10h2v2h-2zM257.40 99.10h2v2h-2zM257.40 101.10h2v2h-2zM268.40 45.10h2v2h-2zM268.40 50.10h2v2h-2zM268.40 56.10h2v2h-2zM266.40 56.10h2v2h-2zM264.40 54.10h2v2h-2zM264.40 50.10h2v2h-2zM305.40 116.10h2v2h-2zM305.40 125.10h2v2h-2zM305.40 128.10h2v2h-2zM301.40 134.10h2v2h-2zM301.40 152.10h2v2h-2zM301.40 159.10h2v2h-2zM301.40 167.10h2v2h-2zM301.40 183.10h2v2h-2zM301.40 185.10h2v2h-2zM300.40 187.10h2v2h-2zM296.40 192.10h2v2h-2zM296.40 194.10h2v2h-2zM298.40 196.10h2v2h-2zM300.40 199.10h2v2h-2zM301.40 205.10h2v2h-2zM301.40 208.10h2v2h-2zM301.40 210.10h2v2h-2zM301.40 216.10h2v2h-2zM301.40 217.10h2v2h-2zM301.40 227.10h2v2h-2zM301.40 234.10h2v2h-2zM301.40 236.10h2v2h-2zM334.40 14.10h2v2h-2zM334.40 20.10h2v2h-2zM334.40 21.10h2v2h-2zM334.40 25.10h2v2h-2zM334.40 27.10h2v2h-2zM334.40 30.10h2v2h-2zM334.40 32.10h2v2h-2zM334.40 34.10h2v2h-2zM334.40 40.10h2v2h-2zM334.40 43.10h2v2h-2zM334.40 49.10h2v2h-2zM334.40 52.10h2v2h-2zM334.40 59.10h2v2h-2zM334.40 61.10h2v2h-2zM334.40 78.10h2v2h-2zM334.40 81.10h2v2h-2zM334.40 83.10h2v2h-2zM334.40 85.10h2v2h-2zM334.40 89.10h2v2h-2zM409.40 79.10h2v2h-2zM409.40 90.10h2v2h-2zM409.40 105.10h2v2h-2zM409.40 112.10h2v2h-2zM409.40 114.10h2v2h-2zM409.40 116.10h2v2h-2zM409.40 123.10h2v2h-2zM414.40 128.10h2v2h-2zM421.40 139.10h2v2h-2zM421.40 141.10h2v2h-2zM421.40 168.10h2v2h-2zM421.40 172.10h2v2h-2zM421.40 188.10h2v2h-2zM421.40 190.10h2v2h-2zM421.40 208.10h2v2h-2zM421.40 219.10h2v2h-2zM398.40 67.10h2v2h-2zM402.40 69.10h2v2h-2zM402.40 70.10h2v2h-2zM403.40 70.10h2v2h-2zM203.40 59.10h2v2h-2zM205.40 61.10h2v2h-2zM243.40 34.10h2v2h-2zM244.40 34.10h2v2h-2zM251.40 30.10h2v2h-2zM219.40 41.10h2v2h-2zM221.40 41.10h2v2h-2zM230.40 41.10h2v2h-2zM232.40 41.10h2v2h-2zM218.40 59.10h2v2h-2zM219.40 56.10h2v2h-2zM219.40 49.10h2v2h-2zM219.40 47.10h2v2h-2zM221.40 58.10h2v2h-2zM223.40 56.10h2v2h-2zM223.40 47.10h2v2h-2zM226.40 59.10h2v2h-2zM382.40 43.10h2v2h-2zM384.40 40.10h2v2h-2zM384.40 36.10h2v2h-2zM380.40 32.10h2v2h-2zM393.40 58.10h2v2h-2zM394.40 59.10h2v2h-2zM394.40 58.10h2v2h-2z"/><path fill="#3D0F71" shape-rendering="crispEdges" d="M209.40 63.10h2v2h-2zM260.40 63.10h2v2h-2zM264.40 63.10h2v2h-2zM285.40 63.10h2v2h-2zM289.40 63.10h2v2h-2zM335.40 63.10h2v2h-2zM393.40 63.10h2v2h-2zM228.40 72.10h2v2h-2zM284.40 32.10h2v2h-2zM314.40 32.10h2v2h-2zM223.40 41.10h2v2h-2zM226.40 43.10h2v2h-2zM250.40 43.10h2v2h-2zM248.40 99.10h2v2h-2zM244.40 118.10h2v2h-2zM355.40 14.10h2v2h-2zM362.40 14.10h2v2h-2zM209.40 59.10h2v2h-2zM209.40 69.10h2v2h-2zM209.40 85.10h2v2h-2zM209.40 107.10h2v2h-2zM207.40 94.10h2v2h-2zM230.40 43.10h2v2h-2zM230.40 52.10h2v2h-2zM226.40 110.10h2v2h-2zM259.40 38.10h2v2h-2zM259.40 96.10h2v2h-2zM259.40 101.10h2v2h-2zM250.40 130.10h2v2h-2zM257.40 56.10h2v2h-2zM257.40 94.10h2v2h-2zM264.40 52.10h2v2h-2zM264.40 47.10h2v2h-2zM301.40 138.10h2v2h-2zM298.40 197.10h2v2h-2zM301.40 207.10h2v2h-2zM301.40 228.10h2v2h-2zM334.40 65.10h2v2h-2zM334.40 70.10h2v2h-2zM334.40 72.10h2v2h-2zM334.40 98.10h2v2h-2zM409.40 74.10h2v2h-2zM409.40 76.10h2v2h-2zM409.40 78.10h2v2h-2zM409.40 83.10h2v2h-2zM409.40 85.10h2v2h-2zM409.40 92.10h2v2h-2zM409.40 94.10h2v2h-2zM409.40 96.10h2v2h-2zM409.40 98.10h2v2h-2zM409.40 101.10h2v2h-2zM409.40 103.10h2v2h-2zM409.40 109.10h2v2h-2zM409.40 118.10h2v2h-2zM412.40 127.10h2v2h-2zM416.40 130.10h2v2h-2zM418.40 130.10h2v2h-2zM419.40 132.10h2v2h-2zM421.40 132.10h2v2h-2zM421.40 134.10h2v2h-2zM421.40 143.10h2v2h-2zM421.40 145.10h2v2h-2zM421.40 148.10h2v2h-2zM421.40 150.10h2v2h-2zM421.40 152.10h2v2h-2zM421.40 154.10h2v2h-2zM421.40 159.10h2v2h-2zM421.40 161.10h2v2h-2zM423.40 163.10h2v2h-2zM423.40 165.10h2v2h-2zM425.40 165.10h2v2h-2zM423.40 168.10h2v2h-2zM421.40 170.10h2v2h-2zM421.40 178.10h2v2h-2zM421.40 185.10h2v2h-2zM421.40 187.10h2v2h-2zM421.40 192.10h2v2h-2zM421.40 194.10h2v2h-2zM421.40 196.10h2v2h-2zM421.40 197.10h2v2h-2zM421.40 199.10h2v2h-2zM421.40 203.10h2v2h-2zM421.40 205.10h2v2h-2zM421.40 210.10h2v2h-2zM421.40 212.10h2v2h-2zM421.40 214.10h2v2h-2zM421.40 216.10h2v2h-2zM421.40 221.10h2v2h-2zM421.40 223.10h2v2h-2zM421.40 227.10h2v2h-2zM201.40 58.10h2v2h-2zM246.40 32.10h2v2h-2zM250.40 30.10h2v2h-2zM223.40 49.10h2v2h-2zM226.40 49.10h2v2h-2zM384.40 43.10h2v2h-2zM380.40 43.10h2v2h-2zM382.40 41.10h2v2h-2zM382.40 36.10h2v2h-2zM380.40 36.10h2v2h-2zM384.40 32.10h2v2h-2zM378.40 32.10h2v2h-2zM396.40 59.10h2v2h-2zM396.40 58.10h2v2h-2z"/><path fill="#21114E" shape-rendering="crispEdges" d="M409.40 81.10h2v2h-2zM409.40 87.10h2v2h-2zM409.40 89.10h2v2h-2zM409.40 99.10h2v2h-2zM409.40 107.10h2v2h-2zM409.40 110.10h2v2h-2zM409.40 119.10h2v2h-2zM409.40 121.10h2v2h-2zM409.40 125.10h2v2h-2zM410.40 127.10h2v2h-2zM412.40 128.10h2v2h-2zM418.40 132.10h2v2h-2zM421.40 136.10h2v2h-2zM421.40 138.10h2v2h-2zM421.40 147.10h2v2h-2zM421.40 156.10h2v2h-2zM421.40 158.10h2v2h-2zM425.40 167.10h2v2h-2zM423.40 167.10h2v2h-2zM421.40 174.10h2v2h-2zM421.40 176.10h2v2h-2zM421.40 179.10h2v2h-2zM421.40 181.10h2v2h-2zM421.40 183.10h2v2h-2zM421.40 201.10h2v2h-2zM421.40 207.10h2v2h-2zM421.40 217.10h2v2h-2zM421.40 225.10h2v2h-2zM421.40 228.10h2v2h-2zM421.40 230.10h2v2h-2zM421.40 232.10h2v2h-2zM421.40 234.10h2v2h-2zM421.40 236.10h2v2h-2zM382.40 40.10h2v2h-2zM384.40 30.10h2v2h-2zM382.40 30.10h2v2h-2zM393.40 59.10h2v2h-2zM393.40 56.10h2v2h-2z"/>
<rect x="0.7" y="0.7" width="641.9" height="270.8" fill="none" stroke="#333" stroke-width="1.42"/>
</g>
<rect x="914.9" y="636.9" width="46.4" height="272.2" fill="#D9D9D9"/>
<rect x="915.6" y="637.6" width="45.0" height="270.8" fill="none" stroke="#333" stroke-width="1.42"/>
<text transform="translate(938.1 773.0) rotate(90)" text-anchor="middle" font-size="23.47" fill="#1A1A1A" y="8.0">2010-2020</text>
<line x1="264.3" x2="271.6" y1="682.0" y2="682.0" stroke="#333" stroke-width="2.85"/>
<text x="258.4" y="691.3" text-anchor="end" font-size="23.47" fill="#4D4D4D">40</text>
<line x1="264.3" x2="271.6" y1="754.7" y2="754.7" stroke="#333" stroke-width="2.85"/>
<text x="258.4" y="764.0" text-anchor="end" font-size="23.47" fill="#4D4D4D">0</text>
<line x1="264.3" x2="271.6" y1="827.3" y2="827.3" stroke="#333" stroke-width="2.85"/>
<text x="258.4" y="836.6" text-anchor="end" font-size="23.47" fill="#4D4D4D">-40</text>
<line x1="264.3" x2="271.6" y1="900.0" y2="900.0" stroke="#333" stroke-width="2.85"/>
<text x="258.4" y="909.3" text-anchor="end" font-size="23.47" fill="#4D4D4D">-80</text>
<line x1="414.7" x2="414.7" y1="909.1" y2="916.4" stroke="#333" stroke-width="2.85"/>
<text x="414.7" y="939.6" text-anchor="middle" font-size="23.47" fill="#4D4D4D">100</text>
<line x1="593.2" x2="593.2" y1="909.1" y2="916.4" stroke="#333" stroke-width="2.85"/>
<text x="593.2" y="939.6" text-anchor="middle" font-size="23.47" fill="#4D4D4D">200</text>
<line x1="771.8" x2="771.8" y1="909.1" y2="916.4" stroke="#333" stroke-width="2.85"/>
<text x="771.8" y="939.6" text-anchor="middle" font-size="23.47" fill="#4D4D4D">300</text>
<rect x="1005.3" y="378.1" width="46" height="230" fill="url(#mg)"/>
<line x1="1005.3" x2="1014.5" y1="405.3" y2="405.3" stroke="#fff" stroke-width="1.42"/>
<line x1="1042.1" x2="1051.3" y1="405.3" y2="405.3" stroke="#fff" stroke-width="1.42"/>
<text x="1066.0" y="414.6" font-size="23.47" fill="#000">100</text>
<line x1="1005.3" x2="1014.5" y1="506.3" y2="506.3" stroke="#fff" stroke-width="1.42"/>
<line x1="1042.1" x2="1051.3" y1="506.3" y2="506.3" stroke="#fff" stroke-width="1.42"/>
<text x="1066.0" y="515.6" font-size="23.47" fill="#000">10</text>
<line x1="1005.3" x2="1014.5" y1="607.3" y2="607.3" stroke="#fff" stroke-width="1.42"/>
<line x1="1042.1" x2="1051.3" y1="607.3" y2="607.3" stroke="#fff" stroke-width="1.42"/>
<text x="1066.0" y="616.6" font-size="23.47" fill="#000">1</text>
</svg></body></html>
